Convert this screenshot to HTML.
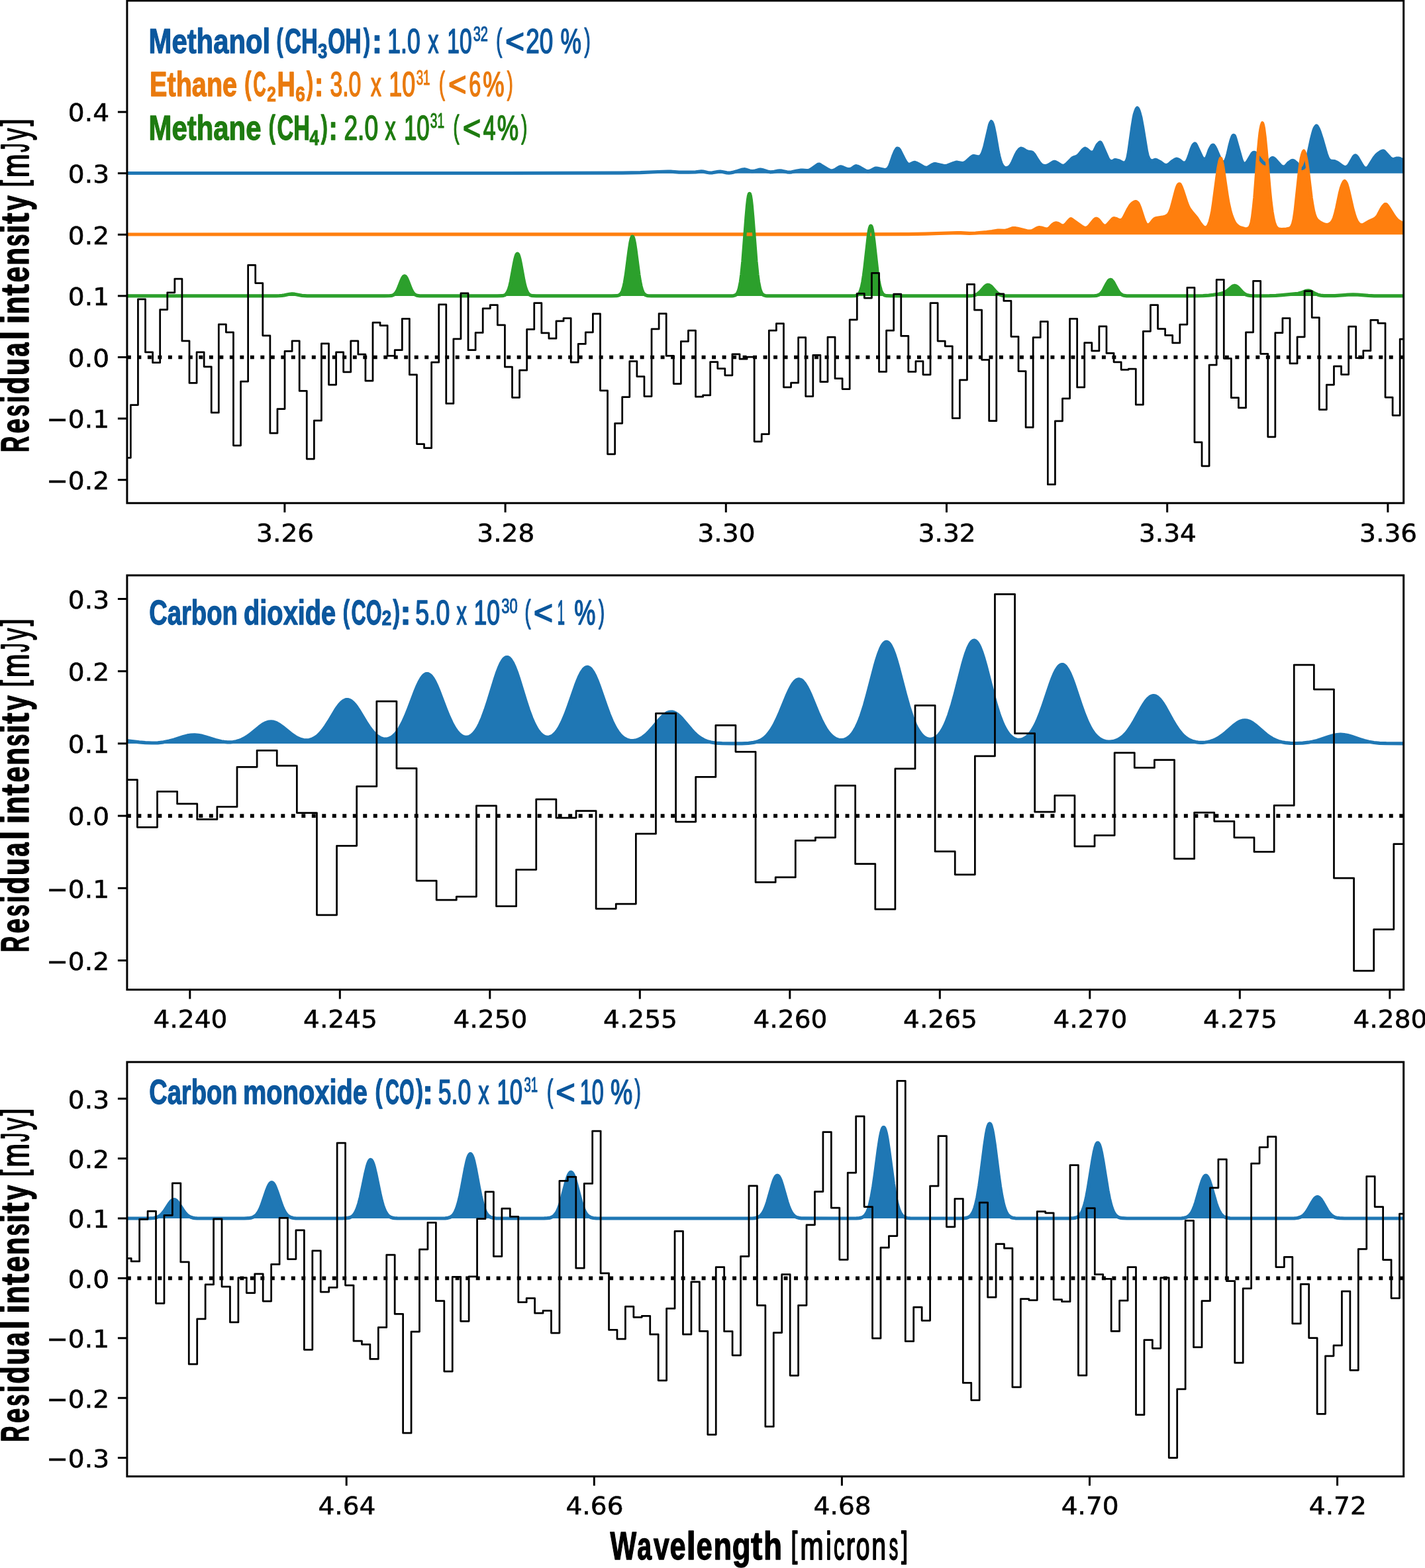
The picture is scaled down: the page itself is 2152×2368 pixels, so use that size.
<!DOCTYPE html>
<html lang="en"><head><meta charset="utf-8"><title>Residual intensity spectra</title>
<style>
html,body{margin:0;padding:0;background:#fff;}
body{width:2152px;height:2368px;overflow:hidden;}
svg{display:block;}
</style></head><body>
<svg width="2152" height="2368" viewBox="0 0 2152 2368" role="img" aria-label="Residual intensity spectra">
<rect width="2152" height="2368" fill="#fff"/>
<defs>
<clipPath id="c1"><rect x="191.9" y="1" width="1927.8" height="758.8"/></clipPath>
<clipPath id="c2"><rect x="191.9" y="868.9" width="1927.8" height="625.7"/></clipPath>
<clipPath id="c3"><rect x="191.9" y="1603.9" width="1927.8" height="625.8"/></clipPath>
</defs>
<g clip-path="url(#c1)">
<polygon fill="#1f77b4" points="191,261.7 191.0,261.5 765.8,261.5 939.8,261.1 967.0,260.7 993.5,259.5 1008.5,259.0 1013.0,259.1 1025.5,260.1 1040.5,260.2 1050.5,259.9 1059.2,258.8 1062.0,259.1 1068.5,260.5 1071.8,261.0 1076.0,260.8 1084.5,259.4 1087.8,259.1 1090.8,259.5 1097.5,260.9 1100.8,261.2 1103.2,261.0 1106.2,260.4 1113.2,258.5 1121.2,256.1 1123.8,255.7 1126.0,256.0 1132.2,258.0 1135.5,258.6 1139.0,258.4 1145.8,256.4 1148.5,256.1 1151.2,256.5 1159.0,259.0 1163.0,259.8 1167.0,259.7 1174.8,258.1 1177.8,257.8 1181.0,258.2 1188.5,259.8 1192.2,260.1 1195.5,259.8 1203.5,258.0 1209.5,257.2 1212.2,257.2 1218.2,257.7 1221.5,257.3 1223.0,256.7 1225.0,255.6 1234.2,249.0 1235.8,248.2 1236.8,248.0 1237.8,248.3 1239.2,249.1 1251.2,256.5 1253.5,257.5 1255.2,257.8 1257.5,257.8 1259.8,257.1 1261.8,256.0 1266.5,252.9 1268.8,251.9 1270.0,251.9 1271.5,252.2 1279.0,255.3 1280.8,255.6 1282.5,255.7 1284.0,255.4 1285.5,254.9 1287.2,253.9 1291.2,251.2 1292.2,250.8 1293.0,250.7 1295.0,251.2 1298.8,252.9 1307.5,257.9 1309.5,258.6 1311.5,258.7 1313.2,258.4 1314.8,257.8 1320.5,254.7 1322.5,254.0 1323.8,254.0 1325.5,254.3 1335.8,256.5 1338.0,256.4 1340.0,255.4 1341.2,254.3 1342.0,253.3 1343.8,250.0 1345.2,246.2 1349.2,234.4 1351.8,228.3 1353.8,225.0 1354.5,224.3 1355.2,224.1 1356.2,224.3 1357.0,224.7 1358.8,226.8 1366.5,242.1 1368.5,245.4 1370.2,247.2 1371.2,247.8 1372.2,248.2 1373.2,248.3 1374.5,248.1 1379.2,245.8 1380.8,245.4 1381.8,245.4 1383.8,246.1 1387.2,247.8 1395.2,252.5 1397.2,253.2 1399.0,253.4 1400.2,253.2 1401.5,252.8 1406.8,249.4 1409.5,248.1 1411.2,247.5 1413.5,247.7 1424.8,250.3 1427.5,250.6 1429.2,250.4 1430.8,250.0 1439.8,246.5 1443.8,245.2 1446.0,245.2 1453.2,246.5 1454.8,246.4 1456.2,246.0 1458.8,244.4 1466.8,237.3 1468.8,235.9 1469.8,235.6 1470.8,235.6 1476.5,236.8 1478.2,236.8 1479.5,236.5 1480.5,235.9 1481.5,235.0 1482.2,234.0 1483.2,232.2 1484.5,229.1 1486.8,221.9 1494.5,188.8 1495.8,185.4 1497.0,183.6 1497.8,184.4 1498.8,186.4 1499.8,189.4 1500.8,193.4 1502.8,203.2 1507.2,228.6 1508.8,235.6 1510.5,242.3 1512.0,246.7 1513.8,250.2 1515.5,252.2 1516.5,252.9 1517.8,253.5 1519.8,253.8 1522.0,253.3 1523.8,252.3 1525.8,250.4 1527.5,247.8 1529.2,244.6 1534.2,233.4 1536.2,229.6 1538.8,226.3 1540.5,224.8 1541.8,224.2 1543.0,224.3 1544.8,225.0 1549.2,227.8 1550.8,228.5 1552.5,229.0 1557.8,229.8 1559.5,230.6 1561.8,233.2 1566.8,241.3 1570.0,245.9 1572.2,248.3 1573.5,249.3 1574.8,250.0 1576.2,250.4 1578.0,250.6 1579.8,250.5 1581.5,250.1 1584.0,249.0 1590.2,245.0 1592.2,244.3 1593.8,244.6 1596.2,245.8 1602.5,249.7 1604.2,250.3 1605.8,250.4 1607.8,249.8 1609.8,248.5 1618.0,240.3 1620.0,238.5 1621.5,237.7 1625.5,236.5 1628.0,235.0 1630.0,232.9 1634.8,226.9 1636.5,225.3 1638.0,224.3 1639.0,224.2 1640.5,225.0 1642.5,226.4 1645.8,229.2 1647.0,229.9 1648.0,230.2 1649.0,230.2 1650.2,229.9 1651.0,229.5 1652.0,228.6 1653.0,227.1 1655.8,221.3 1657.2,218.8 1659.8,215.9 1660.8,215.2 1661.5,214.9 1662.0,215.1 1662.5,215.7 1664.0,218.5 1673.0,239.1 1674.5,241.5 1675.5,242.6 1677.2,243.6 1679.0,243.8 1680.8,243.2 1683.2,241.7 1684.5,241.6 1690.5,243.1 1695.2,245.6 1696.2,245.9 1697.5,246.0 1698.8,245.7 1699.5,245.2 1701.0,243.6 1702.0,241.4 1703.0,238.0 1704.0,233.1 1705.2,225.4 1710.0,191.2 1712.0,178.9 1713.2,173.1 1714.8,167.9 1716.2,164.5 1717.5,163.0 1718.8,164.5 1720.0,167.3 1721.2,171.1 1722.8,177.1 1725.5,191.5 1731.5,228.1 1733.0,234.6 1734.8,239.3 1735.8,240.8 1736.5,241.6 1737.5,242.3 1738.8,242.8 1739.8,242.9 1741.0,242.7 1744.8,241.3 1745.5,241.4 1746.8,241.8 1751.5,244.2 1757.2,248.4 1758.5,249.0 1760.0,249.5 1762.2,249.5 1764.2,248.7 1766.0,247.5 1769.2,244.5 1771.0,243.1 1774.5,240.9 1776.5,240.2 1778.0,240.3 1780.5,241.4 1781.8,242.3 1784.8,244.8 1786.5,245.8 1787.8,246.1 1788.8,246.1 1789.8,245.8 1790.8,245.3 1791.8,244.3 1792.5,243.3 1794.0,240.2 1795.8,235.5 1799.2,225.0 1800.8,221.2 1801.8,219.3 1802.8,218.0 1803.8,217.2 1804.5,216.9 1805.0,217.1 1805.5,217.6 1806.8,219.8 1815.0,237.3 1816.5,239.3 1817.5,239.9 1818.5,240.2 1819.8,240.1 1820.8,239.6 1821.5,238.9 1822.2,237.8 1823.2,235.5 1826.2,227.0 1828.0,223.3 1829.5,220.8 1830.2,219.9 1831.0,219.3 1832.0,219.2 1832.8,219.5 1834.2,221.3 1836.2,224.9 1842.2,239.1 1843.8,242.1 1845.0,243.7 1846.0,244.3 1847.5,244.7 1848.8,244.4 1849.8,243.8 1850.8,242.6 1852.2,239.2 1853.8,234.0 1857.2,219.1 1859.2,211.6 1861.0,206.6 1862.0,204.8 1862.8,204.4 1863.5,204.5 1864.0,204.9 1864.8,206.2 1865.5,208.3 1875.0,241.9 1876.5,245.2 1877.2,246.1 1878.2,246.8 1879.2,247.1 1880.2,247.1 1881.5,246.6 1882.5,245.8 1884.0,243.8 1891.0,232.1 1892.5,230.6 1893.2,230.3 1894.2,230.3 1895.5,230.7 1897.0,232.2 1902.8,240.0 1906.2,244.2 1908.5,246.3 1910.2,247.2 1912.2,247.4 1913.2,247.2 1914.2,246.6 1915.8,245.2 1918.5,240.9 1919.5,239.6 1921.0,238.5 1922.0,238.4 1923.5,239.0 1925.0,240.1 1934.0,250.0 1935.5,251.2 1937.0,251.9 1938.8,252.1 1940.8,251.5 1942.2,250.2 1945.2,246.6 1946.8,245.3 1950.2,243.0 1951.5,242.5 1952.5,242.4 1953.5,242.7 1954.8,243.4 1957.8,245.9 1959.5,248.0 1962.2,252.1 1963.5,253.4 1964.2,254.0 1965.2,254.3 1967.0,254.3 1968.5,253.5 1969.5,252.3 1970.5,250.4 1971.8,247.0 1973.5,241.0 1975.5,233.2 1980.5,209.9 1982.8,200.9 1984.0,196.8 1985.2,193.7 1986.8,191.1 1988.0,190.0 1989.0,190.7 1990.2,192.6 1991.5,195.2 1993.0,199.0 1996.5,209.8 2003.2,233.2 2004.8,237.3 2006.2,240.3 2007.5,241.8 2009.2,242.9 2011.0,243.4 2015.0,243.5 2018.2,244.8 2021.2,246.6 2027.0,250.9 2029.2,252.1 2031.0,252.6 2032.5,252.6 2034.0,252.0 2035.5,250.9 2036.8,249.5 2038.2,247.3 2044.2,236.9 2045.8,235.2 2046.8,234.8 2047.5,235.0 2048.2,235.5 2050.2,237.7 2057.2,249.7 2059.2,252.5 2060.2,253.4 2061.5,254.0 2063.0,254.2 2064.2,253.9 2065.8,252.9 2067.2,251.2 2075.0,238.7 2078.2,234.5 2080.8,232.2 2083.8,230.1 2086.5,228.5 2088.5,227.9 2089.5,228.0 2090.8,228.9 2099.0,238.1 2100.5,239.4 2101.8,240.1 2102.8,240.4 2104.2,240.5 2105.5,240.2 2108.8,239.1 2110.5,239.0 2112.0,239.0 2114.8,239.8 2120.2,242.5 2122.2,243.1 2124.2,243.4 2124.25,261.7"/>
<polygon fill="#ff7f0e" points="191,354.3 191.0,354.0 1166.2,353.9 1372.0,353.7 1397.5,353.2 1445.8,351.5 1450.8,351.6 1463.8,352.3 1473.2,352.0 1490.0,350.5 1497.8,349.5 1507.0,348.1 1509.5,348.1 1515.5,348.4 1518.2,348.3 1521.0,347.6 1527.8,345.1 1529.8,344.6 1531.2,344.5 1533.8,344.7 1537.0,345.3 1551.0,348.7 1553.5,349.1 1555.5,349.2 1557.5,348.9 1559.2,348.4 1565.2,344.9 1567.2,344.1 1568.8,343.7 1570.5,343.7 1572.8,344.1 1579.2,345.9 1580.8,346.1 1582.2,345.8 1583.5,345.3 1585.0,344.2 1588.5,340.2 1589.8,339.1 1592.2,337.5 1594.0,336.9 1595.8,336.9 1598.0,337.6 1599.2,338.2 1602.0,340.0 1603.5,340.7 1605.0,340.9 1606.5,340.7 1607.8,340.1 1609.0,339.1 1613.8,333.5 1616.2,331.1 1617.2,330.6 1619.0,331.6 1634.8,342.8 1636.5,343.8 1638.0,344.3 1639.2,344.4 1640.8,344.2 1642.0,343.6 1643.2,342.8 1645.5,340.5 1652.5,332.0 1654.0,330.7 1655.5,330.2 1657.0,330.5 1658.8,331.8 1660.2,333.5 1664.0,338.3 1665.8,340.0 1667.8,341.0 1669.8,340.9 1671.0,340.4 1672.5,339.2 1679.2,331.6 1680.5,330.4 1681.5,329.8 1682.8,329.7 1684.8,330.2 1686.5,330.8 1689.5,332.3 1691.0,332.7 1693.0,332.6 1694.0,332.1 1695.0,331.4 1696.2,330.0 1697.5,328.0 1703.8,315.5 1706.8,310.5 1708.8,308.2 1710.8,306.4 1712.8,305.2 1714.8,304.6 1716.2,304.9 1717.5,305.8 1718.8,307.3 1720.0,309.6 1722.0,314.8 1727.5,331.7 1729.8,337.1 1731.0,338.7 1732.0,339.4 1733.2,339.8 1734.8,339.7 1735.8,339.2 1736.8,338.5 1741.2,332.9 1743.2,331.0 1744.5,330.1 1747.5,329.3 1757.0,327.8 1759.2,327.3 1762.2,325.8 1763.5,324.8 1764.8,323.5 1765.8,322.0 1766.8,320.0 1768.8,314.6 1771.2,305.9 1775.8,288.5 1777.2,283.6 1778.2,281.1 1779.2,279.3 1780.2,278.2 1781.0,277.9 1781.8,278.2 1782.5,279.1 1784.2,282.6 1786.2,288.1 1792.2,306.6 1794.2,311.5 1796.0,314.9 1799.8,320.2 1807.2,328.9 1812.2,336.9 1814.8,340.2 1816.5,342.1 1817.8,343.1 1819.0,343.6 1820.5,343.8 1821.8,343.5 1823.2,342.5 1824.2,341.4 1825.2,339.7 1827.2,334.7 1829.2,327.0 1830.8,319.2 1832.5,308.2 1837.8,268.1 1839.8,254.2 1841.8,244.0 1842.8,240.7 1843.5,239.1 1844.0,240.0 1845.0,243.4 1846.8,252.1 1853.0,294.4 1855.0,306.4 1857.5,317.4 1859.2,323.6 1860.8,328.0 1862.8,332.9 1864.5,336.2 1866.2,338.7 1868.5,340.9 1871.2,342.8 1874.2,344.1 1879.5,345.6 1881.2,345.8 1882.8,345.8 1884.5,345.4 1885.8,344.7 1887.0,343.5 1888.2,341.5 1889.2,339.1 1890.0,336.4 1891.5,328.3 1893.2,314.4 1894.8,298.9 1899.5,237.1 1901.8,212.0 1903.0,201.2 1904.0,194.7 1905.2,189.1 1906.5,185.8 1907.5,189.1 1908.5,194.1 1910.2,207.4 1912.2,228.0 1917.5,289.5 1919.2,306.2 1921.0,319.9 1922.8,330.2 1924.5,337.1 1925.8,340.3 1926.8,342.3 1927.8,343.6 1929.2,345.0 1930.5,345.7 1931.8,346.1 1935.2,346.5 1942.5,346.1 1946.5,345.4 1948.5,344.5 1950.0,343.1 1951.2,341.1 1952.5,338.0 1954.2,330.8 1956.0,319.0 1961.8,264.7 1964.0,246.7 1965.2,239.4 1966.5,234.0 1967.8,230.2 1968.5,228.7 1969.0,228.1 1970.0,230.0 1971.2,234.0 1972.2,238.5 1973.5,245.4 1975.5,259.5 1980.2,298.8 1982.0,310.3 1983.5,318.2 1985.2,324.8 1987.0,329.2 1989.0,332.2 1992.0,334.8 1995.0,336.7 1999.0,338.5 2001.8,339.4 2004.0,339.5 2006.5,339.1 2008.8,337.9 2010.8,336.1 2012.5,333.8 2014.5,329.6 2016.5,323.1 2018.8,313.5 2023.2,292.5 2025.2,284.6 2026.5,280.7 2027.8,277.6 2029.2,274.8 2030.5,273.4 2031.5,274.2 2032.8,276.1 2033.8,278.4 2035.0,282.2 2036.8,289.2 2043.0,316.3 2045.8,326.0 2047.5,330.6 2049.2,334.2 2051.0,336.8 2053.0,338.8 2054.2,339.5 2055.8,339.9 2057.2,339.9 2058.8,339.4 2061.0,338.3 2067.0,334.6 2074.8,331.1 2077.0,329.7 2079.0,327.8 2080.8,325.5 2085.8,316.0 2088.5,311.7 2090.8,309.2 2091.8,308.6 2092.5,308.5 2093.8,309.0 2095.5,310.9 2098.2,315.0 2105.0,325.8 2107.5,329.2 2110.2,332.2 2113.0,334.4 2116.5,336.2 2120.5,337.6 2124.2,338.3 2124.25,354.3"/>
<polygon fill="#2ca02c" points="179.9,446.9 179.9,446.9 416.9,446.9 421.9,446.7 425.9,446.4 429.4,445.9 436.9,444.3 440.9,443.9 444.9,444.2 455.9,446.4 463.9,446.9 580.4,446.9 588.9,446.7 591.9,446.3 593.9,445.6 595.9,444.3 597.9,442.1 599.4,439.7 600.9,436.7 605.9,424.0 607.4,420.6 608.4,418.9 609.4,417.6 610.4,417.0 610.9,416.9 611.4,417.0 612.4,417.6 613.4,418.9 614.4,420.6 615.9,424.0 620.4,435.6 621.9,438.8 623.4,441.4 624.9,443.3 626.4,444.7 628.4,445.8 630.4,446.4 633.9,446.8 639.9,446.9 750.9,446.9 758.4,446.7 760.4,446.4 761.9,445.9 763.4,445.0 764.4,444.1 766.4,441.3 768.4,436.7 769.9,431.7 771.4,425.3 776.4,398.3 777.9,391.1 778.9,387.4 779.9,384.7 780.9,383.4 781.4,383.2 781.9,383.4 782.9,384.7 783.9,387.4 784.9,391.1 786.4,398.3 790.9,422.9 792.4,429.7 793.9,435.1 795.4,439.2 796.9,442.2 798.9,444.6 800.9,445.9 802.4,446.4 804.4,446.7 809.9,446.9 923.9,446.9 931.4,446.7 933.4,446.3 935.4,445.6 936.9,444.4 937.9,443.2 938.9,441.6 939.9,439.5 941.9,433.3 943.4,426.5 945.4,414.5 949.9,379.9 951.9,366.6 953.4,360.0 954.4,357.7 954.9,357.2 955.4,357.3 955.9,357.8 956.4,358.8 957.4,362.2 958.4,367.2 959.9,377.0 964.9,415.1 966.4,424.3 967.9,431.6 969.4,437.1 970.9,440.9 971.9,442.7 972.9,444.0 974.9,445.6 976.4,446.2 978.4,446.6 983.9,446.9 1100.4,446.9 1105.4,446.8 1107.9,446.6 1109.9,446.1 1111.9,444.9 1113.4,443.1 1114.4,441.3 1115.4,438.8 1116.4,435.4 1118.4,425.4 1119.9,414.3 1121.9,394.5 1126.9,329.0 1128.4,311.6 1129.4,302.5 1130.4,296.1 1131.4,292.8 1131.9,292.4 1132.4,292.8 1133.4,296.1 1134.4,302.5 1135.4,311.6 1136.9,329.0 1141.9,394.5 1143.9,414.3 1145.4,425.4 1147.4,435.4 1148.4,438.8 1149.4,441.3 1150.4,443.1 1151.9,444.9 1153.9,446.1 1155.9,446.6 1158.4,446.8 1163.4,446.9 1286.4,446.9 1291.9,446.6 1293.9,446.1 1295.4,445.3 1296.4,444.5 1297.4,443.3 1298.4,441.7 1299.4,439.5 1301.4,433.0 1302.9,425.7 1304.4,416.2 1305.9,404.5 1311.4,355.7 1312.4,349.1 1313.4,344.4 1314.4,341.7 1314.9,341.1 1315.4,341.2 1315.9,341.8 1316.4,343.0 1317.4,347.0 1318.4,352.9 1319.9,364.4 1324.9,409.4 1326.9,423.4 1328.4,431.3 1330.4,438.5 1331.4,440.9 1332.4,442.7 1333.4,444.1 1334.9,445.4 1336.9,446.3 1338.9,446.7 1346.4,446.9 1455.4,446.9 1463.9,446.8 1468.4,446.6 1470.9,446.2 1472.9,445.6 1474.9,444.7 1476.9,443.5 1480.4,440.4 1485.9,434.1 1487.9,432.1 1489.9,430.8 1491.9,430.2 1493.9,430.6 1496.4,432.2 1498.4,434.2 1503.9,440.5 1507.4,443.6 1509.4,444.8 1511.4,445.6 1513.4,446.2 1515.9,446.6 1520.4,446.8 1527.9,446.9 1644.9,446.9 1653.4,446.7 1656.4,446.3 1658.9,445.6 1660.9,444.4 1662.9,442.7 1664.4,440.9 1666.4,437.8 1671.4,428.3 1673.4,425.0 1674.4,423.7 1675.4,422.9 1676.9,422.3 1677.9,422.5 1678.9,423.1 1680.9,425.4 1682.4,427.9 1687.9,438.3 1689.9,441.3 1691.4,443.0 1693.4,444.6 1695.4,445.7 1697.9,446.4 1701.4,446.8 1805.4,446.9 1816.9,446.7 1825.4,446.2 1831.9,445.4 1840.4,444.0 1844.9,443.1 1847.9,442.2 1850.4,441.0 1852.9,439.4 1860.9,432.7 1862.9,431.7 1864.4,431.4 1866.4,431.8 1868.9,433.3 1870.9,435.2 1876.4,441.2 1878.4,442.9 1880.4,444.3 1882.4,445.3 1884.4,445.9 1886.9,446.4 1889.9,446.7 1899.9,446.9 1917.4,446.7 1926.9,446.3 1936.4,445.6 1956.9,443.7 1960.4,443.3 1964.9,442.1 1971.9,439.4 1973.9,439.0 1975.4,438.9 1977.4,439.1 1979.4,439.7 1986.9,443.7 1990.4,445.2 1994.4,446.1 1999.4,446.6 2007.4,446.7 2015.9,446.6 2036.4,445.1 2043.4,444.9 2050.4,445.2 2066.4,446.4 2075.4,446.8 2131.4,446.9 2131.4,446.9"/>
<polyline fill="none" stroke="#1f77b4" stroke-width="5.2" stroke-linejoin="round" points="191.0,261.5 765.8,261.5 939.8,261.1 967.0,260.7 993.5,259.5 1008.5,259.0 1013.0,259.1 1025.5,260.1 1040.5,260.2 1050.5,259.9 1059.2,258.8 1062.0,259.1 1068.5,260.5 1071.8,261.0 1076.0,260.8 1084.5,259.4 1087.8,259.1 1090.8,259.5 1097.5,260.9 1100.8,261.2 1103.2,261.0 1106.2,260.4 1113.2,258.5 1121.2,256.1 1123.8,255.7 1126.0,256.0 1132.2,258.0 1135.5,258.6 1139.0,258.4 1145.8,256.4 1148.5,256.1 1151.2,256.5 1159.0,259.0 1163.0,259.8 1167.0,259.7 1174.8,258.1 1177.8,257.8 1181.0,258.2 1188.5,259.8 1192.2,260.1 1195.5,259.8 1203.5,258.0 1209.5,257.2 1212.2,257.2 1218.2,257.7 1221.5,257.3 1223.0,256.7 1225.0,255.6 1234.2,249.0 1235.8,248.2 1236.8,248.0 1237.8,248.3 1239.2,249.1 1251.2,256.5 1253.5,257.5 1255.2,257.8 1257.5,257.8 1259.8,257.1 1261.8,256.0 1266.5,252.9 1268.8,251.9 1270.0,251.9 1271.5,252.2 1279.0,255.3 1280.8,255.6 1282.5,255.7 1284.0,255.4 1285.5,254.9 1287.2,253.9 1291.2,251.2 1292.2,250.8 1293.0,250.7 1295.0,251.2 1298.8,252.9 1307.5,257.9 1309.5,258.6 1311.5,258.7 1313.2,258.4 1314.8,257.8 1320.5,254.7 1322.5,254.0 1323.8,254.0 1325.5,254.3 1335.8,256.5 1338.0,256.4 1340.0,255.4 1341.2,254.3 1342.0,253.3 1343.8,250.0 1345.2,246.2 1349.2,234.4 1351.8,228.3 1353.8,225.0 1354.5,224.3 1355.2,224.1 1356.2,224.3 1357.0,224.7 1358.8,226.8 1366.5,242.1 1368.5,245.4 1370.2,247.2 1371.2,247.8 1372.2,248.2 1373.2,248.3 1374.5,248.1 1379.2,245.8 1380.8,245.4 1381.8,245.4 1383.8,246.1 1387.2,247.8 1395.2,252.5 1397.2,253.2 1399.0,253.4 1400.2,253.2 1401.5,252.8 1406.8,249.4 1409.5,248.1 1411.2,247.5 1413.5,247.7 1424.8,250.3 1427.5,250.6 1429.2,250.4 1430.8,250.0 1439.8,246.5 1443.8,245.2 1446.0,245.2 1453.2,246.5 1454.8,246.4 1456.2,246.0 1458.8,244.4 1466.8,237.3 1468.8,235.9 1469.8,235.6 1470.8,235.6 1476.5,236.8 1478.2,236.8 1479.5,236.5 1480.5,235.9 1481.5,235.0 1482.2,234.0 1483.2,232.2 1484.5,229.1 1486.8,221.9 1494.5,188.8 1495.8,185.4 1497.0,183.6 1497.8,184.4 1498.8,186.4 1499.8,189.4 1500.8,193.4 1502.8,203.2 1507.2,228.6 1508.8,235.6 1510.5,242.3 1512.0,246.7 1513.8,250.2 1515.5,252.2 1516.5,252.9 1517.8,253.5 1519.8,253.8 1522.0,253.3 1523.8,252.3 1525.8,250.4 1527.5,247.8 1529.2,244.6 1534.2,233.4 1536.2,229.6 1538.8,226.3 1540.5,224.8 1541.8,224.2 1543.0,224.3 1544.8,225.0 1549.2,227.8 1550.8,228.5 1552.5,229.0 1557.8,229.8 1559.5,230.6 1561.8,233.2 1566.8,241.3 1570.0,245.9 1572.2,248.3 1573.5,249.3 1574.8,250.0 1576.2,250.4 1578.0,250.6 1579.8,250.5 1581.5,250.1 1584.0,249.0 1590.2,245.0 1592.2,244.3 1593.8,244.6 1596.2,245.8 1602.5,249.7 1604.2,250.3 1605.8,250.4 1607.8,249.8 1609.8,248.5 1618.0,240.3 1620.0,238.5 1621.5,237.7 1625.5,236.5 1628.0,235.0 1630.0,232.9 1634.8,226.9 1636.5,225.3 1638.0,224.3 1639.0,224.2 1640.5,225.0 1642.5,226.4 1645.8,229.2 1647.0,229.9 1648.0,230.2 1649.0,230.2 1650.2,229.9 1651.0,229.5 1652.0,228.6 1653.0,227.1 1655.8,221.3 1657.2,218.8 1659.8,215.9 1660.8,215.2 1661.5,214.9 1662.0,215.1 1662.5,215.7 1664.0,218.5 1673.0,239.1 1674.5,241.5 1675.5,242.6 1677.2,243.6 1679.0,243.8 1680.8,243.2 1683.2,241.7 1684.5,241.6 1690.5,243.1 1695.2,245.6 1696.2,245.9 1697.5,246.0 1698.8,245.7 1699.5,245.2 1701.0,243.6 1702.0,241.4 1703.0,238.0 1704.0,233.1 1705.2,225.4 1710.0,191.2 1712.0,178.9 1713.2,173.1 1714.8,167.9 1716.2,164.5 1717.5,163.0 1718.8,164.5 1720.0,167.3 1721.2,171.1 1722.8,177.1 1725.5,191.5 1731.5,228.1 1733.0,234.6 1734.8,239.3 1735.8,240.8 1736.5,241.6 1737.5,242.3 1738.8,242.8 1739.8,242.9 1741.0,242.7 1744.8,241.3 1745.5,241.4 1746.8,241.8 1751.5,244.2 1757.2,248.4 1758.5,249.0 1760.0,249.5 1762.2,249.5 1764.2,248.7 1766.0,247.5 1769.2,244.5 1771.0,243.1 1774.5,240.9 1776.5,240.2 1778.0,240.3 1780.5,241.4 1781.8,242.3 1784.8,244.8 1786.5,245.8 1787.8,246.1 1788.8,246.1 1789.8,245.8 1790.8,245.3 1791.8,244.3 1792.5,243.3 1794.0,240.2 1795.8,235.5 1799.2,225.0 1800.8,221.2 1801.8,219.3 1802.8,218.0 1803.8,217.2 1804.5,216.9 1805.0,217.1 1805.5,217.6 1806.8,219.8 1815.0,237.3 1816.5,239.3 1817.5,239.9 1818.5,240.2 1819.8,240.1 1820.8,239.6 1821.5,238.9 1822.2,237.8 1823.2,235.5 1826.2,227.0 1828.0,223.3 1829.5,220.8 1830.2,219.9 1831.0,219.3 1832.0,219.2 1832.8,219.5 1834.2,221.3 1836.2,224.9 1842.2,239.1 1843.8,242.1 1845.0,243.7 1846.0,244.3 1847.5,244.7 1848.8,244.4 1849.8,243.8 1850.8,242.6 1852.2,239.2 1853.8,234.0 1857.2,219.1 1859.2,211.6 1861.0,206.6 1862.0,204.8 1862.8,204.4 1863.5,204.5 1864.0,204.9 1864.8,206.2 1865.5,208.3 1875.0,241.9 1876.5,245.2 1877.2,246.1 1878.2,246.8 1879.2,247.1 1880.2,247.1 1881.5,246.6 1882.5,245.8 1884.0,243.8 1891.0,232.1 1892.5,230.6 1893.2,230.3 1894.2,230.3 1895.5,230.7 1897.0,232.2 1902.8,240.0 1906.2,244.2 1908.5,246.3 1910.2,247.2 1912.2,247.4 1913.2,247.2 1914.2,246.6 1915.8,245.2 1918.5,240.9 1919.5,239.6 1921.0,238.5 1922.0,238.4 1923.5,239.0 1925.0,240.1 1934.0,250.0 1935.5,251.2 1937.0,251.9 1938.8,252.1 1940.8,251.5 1942.2,250.2 1945.2,246.6 1946.8,245.3 1950.2,243.0 1951.5,242.5 1952.5,242.4 1953.5,242.7 1954.8,243.4 1957.8,245.9 1959.5,248.0 1962.2,252.1 1963.5,253.4 1964.2,254.0 1965.2,254.3 1967.0,254.3 1968.5,253.5 1969.5,252.3 1970.5,250.4 1971.8,247.0 1973.5,241.0 1975.5,233.2 1980.5,209.9 1982.8,200.9 1984.0,196.8 1985.2,193.7 1986.8,191.1 1988.0,190.0 1989.0,190.7 1990.2,192.6 1991.5,195.2 1993.0,199.0 1996.5,209.8 2003.2,233.2 2004.8,237.3 2006.2,240.3 2007.5,241.8 2009.2,242.9 2011.0,243.4 2015.0,243.5 2018.2,244.8 2021.2,246.6 2027.0,250.9 2029.2,252.1 2031.0,252.6 2032.5,252.6 2034.0,252.0 2035.5,250.9 2036.8,249.5 2038.2,247.3 2044.2,236.9 2045.8,235.2 2046.8,234.8 2047.5,235.0 2048.2,235.5 2050.2,237.7 2057.2,249.7 2059.2,252.5 2060.2,253.4 2061.5,254.0 2063.0,254.2 2064.2,253.9 2065.8,252.9 2067.2,251.2 2075.0,238.7 2078.2,234.5 2080.8,232.2 2083.8,230.1 2086.5,228.5 2088.5,227.9 2089.5,228.0 2090.8,228.9 2099.0,238.1 2100.5,239.4 2101.8,240.1 2102.8,240.4 2104.2,240.5 2105.5,240.2 2108.8,239.1 2110.5,239.0 2112.0,239.0 2114.8,239.8 2120.2,242.5 2122.2,243.1 2124.2,243.4"/>
<polyline fill="none" stroke="#ff7f0e" stroke-width="5.2" stroke-linejoin="round" points="191.0,354.0 1166.2,353.9 1372.0,353.7 1397.5,353.2 1445.8,351.5 1450.8,351.6 1463.8,352.3 1473.2,352.0 1490.0,350.5 1497.8,349.5 1507.0,348.1 1509.5,348.1 1515.5,348.4 1518.2,348.3 1521.0,347.6 1527.8,345.1 1529.8,344.6 1531.2,344.5 1533.8,344.7 1537.0,345.3 1551.0,348.7 1553.5,349.1 1555.5,349.2 1557.5,348.9 1559.2,348.4 1565.2,344.9 1567.2,344.1 1568.8,343.7 1570.5,343.7 1572.8,344.1 1579.2,345.9 1580.8,346.1 1582.2,345.8 1583.5,345.3 1585.0,344.2 1588.5,340.2 1589.8,339.1 1592.2,337.5 1594.0,336.9 1595.8,336.9 1598.0,337.6 1599.2,338.2 1602.0,340.0 1603.5,340.7 1605.0,340.9 1606.5,340.7 1607.8,340.1 1609.0,339.1 1613.8,333.5 1616.2,331.1 1617.2,330.6 1619.0,331.6 1634.8,342.8 1636.5,343.8 1638.0,344.3 1639.2,344.4 1640.8,344.2 1642.0,343.6 1643.2,342.8 1645.5,340.5 1652.5,332.0 1654.0,330.7 1655.5,330.2 1657.0,330.5 1658.8,331.8 1660.2,333.5 1664.0,338.3 1665.8,340.0 1667.8,341.0 1669.8,340.9 1671.0,340.4 1672.5,339.2 1679.2,331.6 1680.5,330.4 1681.5,329.8 1682.8,329.7 1684.8,330.2 1686.5,330.8 1689.5,332.3 1691.0,332.7 1693.0,332.6 1694.0,332.1 1695.0,331.4 1696.2,330.0 1697.5,328.0 1703.8,315.5 1706.8,310.5 1708.8,308.2 1710.8,306.4 1712.8,305.2 1714.8,304.6 1716.2,304.9 1717.5,305.8 1718.8,307.3 1720.0,309.6 1722.0,314.8 1727.5,331.7 1729.8,337.1 1731.0,338.7 1732.0,339.4 1733.2,339.8 1734.8,339.7 1735.8,339.2 1736.8,338.5 1741.2,332.9 1743.2,331.0 1744.5,330.1 1747.5,329.3 1757.0,327.8 1759.2,327.3 1762.2,325.8 1763.5,324.8 1764.8,323.5 1765.8,322.0 1766.8,320.0 1768.8,314.6 1771.2,305.9 1775.8,288.5 1777.2,283.6 1778.2,281.1 1779.2,279.3 1780.2,278.2 1781.0,277.9 1781.8,278.2 1782.5,279.1 1784.2,282.6 1786.2,288.1 1792.2,306.6 1794.2,311.5 1796.0,314.9 1799.8,320.2 1807.2,328.9 1812.2,336.9 1814.8,340.2 1816.5,342.1 1817.8,343.1 1819.0,343.6 1820.5,343.8 1821.8,343.5 1823.2,342.5 1824.2,341.4 1825.2,339.7 1827.2,334.7 1829.2,327.0 1830.8,319.2 1832.5,308.2 1837.8,268.1 1839.8,254.2 1841.8,244.0 1842.8,240.7 1843.5,239.1 1844.0,240.0 1845.0,243.4 1846.8,252.1 1853.0,294.4 1855.0,306.4 1857.5,317.4 1859.2,323.6 1860.8,328.0 1862.8,332.9 1864.5,336.2 1866.2,338.7 1868.5,340.9 1871.2,342.8 1874.2,344.1 1879.5,345.6 1881.2,345.8 1882.8,345.8 1884.5,345.4 1885.8,344.7 1887.0,343.5 1888.2,341.5 1889.2,339.1 1890.0,336.4 1891.5,328.3 1893.2,314.4 1894.8,298.9 1899.5,237.1 1901.8,212.0 1903.0,201.2 1904.0,194.7 1905.2,189.1 1906.5,185.8 1907.5,189.1 1908.5,194.1 1910.2,207.4 1912.2,228.0 1917.5,289.5 1919.2,306.2 1921.0,319.9 1922.8,330.2 1924.5,337.1 1925.8,340.3 1926.8,342.3 1927.8,343.6 1929.2,345.0 1930.5,345.7 1931.8,346.1 1935.2,346.5 1942.5,346.1 1946.5,345.4 1948.5,344.5 1950.0,343.1 1951.2,341.1 1952.5,338.0 1954.2,330.8 1956.0,319.0 1961.8,264.7 1964.0,246.7 1965.2,239.4 1966.5,234.0 1967.8,230.2 1968.5,228.7 1969.0,228.1 1970.0,230.0 1971.2,234.0 1972.2,238.5 1973.5,245.4 1975.5,259.5 1980.2,298.8 1982.0,310.3 1983.5,318.2 1985.2,324.8 1987.0,329.2 1989.0,332.2 1992.0,334.8 1995.0,336.7 1999.0,338.5 2001.8,339.4 2004.0,339.5 2006.5,339.1 2008.8,337.9 2010.8,336.1 2012.5,333.8 2014.5,329.6 2016.5,323.1 2018.8,313.5 2023.2,292.5 2025.2,284.6 2026.5,280.7 2027.8,277.6 2029.2,274.8 2030.5,273.4 2031.5,274.2 2032.8,276.1 2033.8,278.4 2035.0,282.2 2036.8,289.2 2043.0,316.3 2045.8,326.0 2047.5,330.6 2049.2,334.2 2051.0,336.8 2053.0,338.8 2054.2,339.5 2055.8,339.9 2057.2,339.9 2058.8,339.4 2061.0,338.3 2067.0,334.6 2074.8,331.1 2077.0,329.7 2079.0,327.8 2080.8,325.5 2085.8,316.0 2088.5,311.7 2090.8,309.2 2091.8,308.6 2092.5,308.5 2093.8,309.0 2095.5,310.9 2098.2,315.0 2105.0,325.8 2107.5,329.2 2110.2,332.2 2113.0,334.4 2116.5,336.2 2120.5,337.6 2124.2,338.3"/>
<polyline fill="none" stroke="#2ca02c" stroke-width="5.2" stroke-linejoin="round" points="179.9,446.9 416.9,446.9 421.9,446.7 425.9,446.4 429.4,445.9 436.9,444.3 440.9,443.9 444.9,444.2 455.9,446.4 463.9,446.9 580.4,446.9 588.9,446.7 591.9,446.3 593.9,445.6 595.9,444.3 597.9,442.1 599.4,439.7 600.9,436.7 605.9,424.0 607.4,420.6 608.4,418.9 609.4,417.6 610.4,417.0 610.9,416.9 611.4,417.0 612.4,417.6 613.4,418.9 614.4,420.6 615.9,424.0 620.4,435.6 621.9,438.8 623.4,441.4 624.9,443.3 626.4,444.7 628.4,445.8 630.4,446.4 633.9,446.8 639.9,446.9 750.9,446.9 758.4,446.7 760.4,446.4 761.9,445.9 763.4,445.0 764.4,444.1 766.4,441.3 768.4,436.7 769.9,431.7 771.4,425.3 776.4,398.3 777.9,391.1 778.9,387.4 779.9,384.7 780.9,383.4 781.4,383.2 781.9,383.4 782.9,384.7 783.9,387.4 784.9,391.1 786.4,398.3 790.9,422.9 792.4,429.7 793.9,435.1 795.4,439.2 796.9,442.2 798.9,444.6 800.9,445.9 802.4,446.4 804.4,446.7 809.9,446.9 923.9,446.9 931.4,446.7 933.4,446.3 935.4,445.6 936.9,444.4 937.9,443.2 938.9,441.6 939.9,439.5 941.9,433.3 943.4,426.5 945.4,414.5 949.9,379.9 951.9,366.6 953.4,360.0 954.4,357.7 954.9,357.2 955.4,357.3 955.9,357.8 956.4,358.8 957.4,362.2 958.4,367.2 959.9,377.0 964.9,415.1 966.4,424.3 967.9,431.6 969.4,437.1 970.9,440.9 971.9,442.7 972.9,444.0 974.9,445.6 976.4,446.2 978.4,446.6 983.9,446.9 1100.4,446.9 1105.4,446.8 1107.9,446.6 1109.9,446.1 1111.9,444.9 1113.4,443.1 1114.4,441.3 1115.4,438.8 1116.4,435.4 1118.4,425.4 1119.9,414.3 1121.9,394.5 1126.9,329.0 1128.4,311.6 1129.4,302.5 1130.4,296.1 1131.4,292.8 1131.9,292.4 1132.4,292.8 1133.4,296.1 1134.4,302.5 1135.4,311.6 1136.9,329.0 1141.9,394.5 1143.9,414.3 1145.4,425.4 1147.4,435.4 1148.4,438.8 1149.4,441.3 1150.4,443.1 1151.9,444.9 1153.9,446.1 1155.9,446.6 1158.4,446.8 1163.4,446.9 1286.4,446.9 1291.9,446.6 1293.9,446.1 1295.4,445.3 1296.4,444.5 1297.4,443.3 1298.4,441.7 1299.4,439.5 1301.4,433.0 1302.9,425.7 1304.4,416.2 1305.9,404.5 1311.4,355.7 1312.4,349.1 1313.4,344.4 1314.4,341.7 1314.9,341.1 1315.4,341.2 1315.9,341.8 1316.4,343.0 1317.4,347.0 1318.4,352.9 1319.9,364.4 1324.9,409.4 1326.9,423.4 1328.4,431.3 1330.4,438.5 1331.4,440.9 1332.4,442.7 1333.4,444.1 1334.9,445.4 1336.9,446.3 1338.9,446.7 1346.4,446.9 1455.4,446.9 1463.9,446.8 1468.4,446.6 1470.9,446.2 1472.9,445.6 1474.9,444.7 1476.9,443.5 1480.4,440.4 1485.9,434.1 1487.9,432.1 1489.9,430.8 1491.9,430.2 1493.9,430.6 1496.4,432.2 1498.4,434.2 1503.9,440.5 1507.4,443.6 1509.4,444.8 1511.4,445.6 1513.4,446.2 1515.9,446.6 1520.4,446.8 1527.9,446.9 1644.9,446.9 1653.4,446.7 1656.4,446.3 1658.9,445.6 1660.9,444.4 1662.9,442.7 1664.4,440.9 1666.4,437.8 1671.4,428.3 1673.4,425.0 1674.4,423.7 1675.4,422.9 1676.9,422.3 1677.9,422.5 1678.9,423.1 1680.9,425.4 1682.4,427.9 1687.9,438.3 1689.9,441.3 1691.4,443.0 1693.4,444.6 1695.4,445.7 1697.9,446.4 1701.4,446.8 1805.4,446.9 1816.9,446.7 1825.4,446.2 1831.9,445.4 1840.4,444.0 1844.9,443.1 1847.9,442.2 1850.4,441.0 1852.9,439.4 1860.9,432.7 1862.9,431.7 1864.4,431.4 1866.4,431.8 1868.9,433.3 1870.9,435.2 1876.4,441.2 1878.4,442.9 1880.4,444.3 1882.4,445.3 1884.4,445.9 1886.9,446.4 1889.9,446.7 1899.9,446.9 1917.4,446.7 1926.9,446.3 1936.4,445.6 1956.9,443.7 1960.4,443.3 1964.9,442.1 1971.9,439.4 1973.9,439.0 1975.4,438.9 1977.4,439.1 1979.4,439.7 1986.9,443.7 1990.4,445.2 1994.4,446.1 1999.4,446.6 2007.4,446.7 2015.9,446.6 2036.4,445.1 2043.4,444.9 2050.4,445.2 2066.4,446.4 2075.4,446.8 2131.4,446.9"/>
<path d="M191.9 691.31H197.35V611.62H208.43V451.79H219.51V531.92H230.59V547.64H241.67V467.51H252.75V441.75H263.83V421H274.91V514.89H285.99V578.43H297.07V531.92H308.15V553.76H319.23V623.19H330.31V489.78H341.39V501.79H352.47V672.75H363.55V576.03H374.63V400.48H385.71V427.55H396.79V506.81H407.87V654.19H418.95V617.51H430.03V530.39H441.11V514.89H452.19V590.44H463.27V693.06H474.35V635.2H485.43V518.82H496.51V581.05H507.59V531.92H518.67V561.83H529.75V514.89H540.83V535.2H551.91V575.15H562.99V487.16H574.07V491.53H585.15V537.38H596.23V528.65H607.31V481.27H618.39V565.98H629.47V670.57H640.55V676.68H651.63V547.21H662.71V459.87H673.79V609.43H684.87V511.83H695.95V442.84H707.03V528.65H718.11V502.45H729.19V465.76H740.27V460.52H751.35V490.87H762.43V554.19H773.51V600.26H784.59V559.21H795.67V497.42H806.75V457.69H817.83V502.88H828.91V511.18H839.99V484.98H851.07V480.61H862.15V547.21H873.23V519.48H884.31V501.79H895.39V473.84H906.47V589.78H917.55V685.85H928.63V639.34H939.71V599.61H950.79V545.68H961.87V568.6H972.95V598.52H984.03V496.99H995.11V473.62H1006.19V537.38H1017.27V579.52H1028.35V515.55H1039.43V499.17H1050.51V599.17H1061.59V596.99H1072.67V546.55H1083.75V556.59H1094.83V566.86H1105.91V534.76H1116.99V542.18H1128.07V539.13H1139.15V666.86H1150.23V655.72H1161.31V499.17H1172.39V488.69H1183.47V584.76H1194.55V578.21H1205.63V509.65H1216.71V598.52H1227.79V536.29H1238.87V576.68H1249.95V509.21H1261.03V571.66H1272.11V587.6H1283.19V482.79H1294.27V443.49H1305.35V450.04H1316.43V412.49H1327.51V561.4H1338.59V499.17H1349.67V444.15H1360.75V507.47H1371.83V561.4H1382.91V545.68H1393.99V565.76H1405.07V457.69H1416.15V515.11H1427.23V522.75H1438.31V631.7H1449.39V573.84H1460.47V429.3H1471.55V468.17H1482.63V543.28H1493.71V635.63H1504.79V443.93H1515.87V454.41H1526.95V508.34H1538.03V560.52H1549.11V645.46H1560.19V509.65H1571.27V485.63H1582.35V731.7H1593.43V635.85H1604.51V601.79H1615.59V481.27H1626.67V584.98H1637.75V517.73H1648.83V529.96H1659.91V492.84H1670.99V533.45H1682.07V546.77H1693.15V558.34H1704.23V557.03H1715.31V611.18H1726.39V500.26H1737.47V460.52H1748.55V496.55H1759.63V506.38H1770.71V517.95H1781.79V490H1792.87V434.32H1803.95V667.95H1815.03V703.76H1826.11V551.14H1837.19V422.31H1848.27V541.31H1859.35V600.7H1870.43V615.98H1881.51V501.79H1892.59V424.28H1903.67V534.32H1914.75V659.87H1925.83V502.66H1936.91V480.61H1947.99V548.95H1959.07V508.78H1970.15V439.56H1981.23V479.52H1992.31V618.6H2003.39V581.05H2014.47V553.1H2025.55V565.55H2036.63V493.06H2047.71V540.66H2058.79V529.74H2069.87V483.45H2080.95V488.03H2092.03V600.04H2103.11V627.33H2114.19V512.05H2119.7" fill="none" stroke="#000" stroke-width="2.75" stroke-linejoin="round"/>
<line x1="191.9" y1="539.5" x2="2119.7" y2="539.5" stroke="#000" stroke-width="5.6" stroke-dasharray="5.95 9.545"/>
</g>
<g clip-path="url(#c2)">
<polygon fill="#1f77b4" points="179.9,1122.9 179.9,1117.9 190.4,1118.5 210.4,1120.9 219.4,1121.7 229.4,1122.0 238.4,1121.8 246.9,1120.8 255.4,1119.1 262.4,1117.2 276.9,1112.5 282.9,1110.9 288.4,1110.1 293.9,1109.8 299.4,1110.3 305.4,1111.4 310.9,1113.0 325.4,1117.6 334.4,1119.8 338.9,1120.4 343.4,1120.8 347.9,1120.8 351.9,1120.5 356.4,1119.7 360.4,1118.6 364.4,1117.1 368.4,1115.2 372.4,1112.8 376.9,1109.7 391.4,1097.9 396.9,1093.9 400.4,1092.0 403.4,1090.8 406.4,1090.0 409.4,1089.8 412.4,1090.1 415.4,1090.9 418.4,1092.2 421.4,1093.9 426.9,1097.8 441.4,1109.5 445.9,1112.5 449.9,1114.7 454.4,1116.6 458.4,1117.6 462.9,1117.9 466.9,1117.5 471.4,1116.2 475.4,1114.2 479.4,1111.3 483.4,1107.5 487.4,1102.8 491.9,1096.5 496.4,1089.5 506.4,1072.8 509.4,1068.3 512.4,1064.3 515.4,1061.0 518.4,1058.5 521.4,1057.0 522.9,1056.6 524.4,1056.5 525.9,1056.6 527.4,1057.1 530.4,1058.6 533.4,1061.2 536.4,1064.5 538.9,1067.9 541.9,1072.4 552.9,1090.6 557.4,1097.5 561.9,1103.6 566.4,1108.6 568.9,1110.8 571.4,1112.6 573.9,1114.1 575.9,1115.0 578.4,1115.8 580.9,1116.2 583.4,1116.2 585.4,1115.9 587.9,1115.1 589.9,1114.2 592.4,1112.6 594.4,1111.0 596.9,1108.6 598.9,1106.3 601.4,1102.9 603.4,1099.8 607.9,1091.5 612.4,1081.6 616.9,1070.4 627.4,1042.7 630.4,1035.6 632.9,1030.3 635.9,1024.9 638.9,1020.9 640.4,1019.4 641.9,1018.4 643.4,1017.7 644.9,1017.5 646.4,1017.7 647.9,1018.3 649.4,1019.3 650.9,1020.7 653.9,1024.6 656.9,1029.9 659.4,1035.1 662.4,1042.2 673.4,1071.1 677.9,1082.2 682.4,1091.9 686.9,1100.0 689.4,1103.6 691.4,1106.1 693.9,1108.7 696.4,1110.8 698.9,1112.2 701.4,1113.1 703.9,1113.4 706.4,1113.2 708.9,1112.4 710.9,1111.3 713.4,1109.4 715.4,1107.5 717.9,1104.4 719.9,1101.5 722.4,1097.3 724.4,1093.4 728.4,1084.2 732.9,1072.0 737.4,1058.2 747.9,1024.0 750.9,1015.1 753.4,1008.6 756.4,1001.9 759.4,996.8 760.9,995.0 762.4,993.7 763.9,992.8 765.4,992.5 766.9,992.7 768.4,993.4 769.9,994.6 771.4,996.3 774.4,1001.1 777.4,1007.6 780.4,1015.4 783.4,1024.3 793.9,1058.5 798.4,1072.3 802.9,1084.5 806.9,1093.6 810.9,1100.9 812.9,1103.9 815.4,1107.0 817.4,1109.1 819.9,1111.1 821.9,1112.2 824.4,1113.1 826.9,1113.4 829.4,1113.1 831.9,1112.3 834.4,1110.9 836.9,1108.8 839.4,1106.2 841.9,1103.0 844.4,1099.1 848.9,1090.5 853.9,1078.9 858.4,1066.7 869.4,1035.0 872.4,1027.2 874.9,1021.4 877.9,1015.5 880.9,1011.1 882.4,1009.5 883.9,1008.4 885.4,1007.7 886.9,1007.4 888.4,1007.6 889.9,1008.3 891.4,1009.4 892.9,1010.9 895.9,1015.2 898.9,1021.0 901.9,1028.0 904.9,1035.9 915.4,1066.2 919.9,1078.5 924.4,1089.3 928.9,1098.3 930.9,1101.7 933.4,1105.5 935.9,1108.7 938.4,1111.4 940.9,1113.6 943.4,1115.3 945.9,1116.6 948.9,1117.8 951.4,1118.3 953.9,1118.6 956.4,1118.6 959.4,1118.2 961.9,1117.5 964.9,1116.4 967.4,1115.2 970.4,1113.4 975.4,1109.5 980.4,1104.6 984.9,1099.6 995.9,1086.5 1001.4,1080.8 1004.4,1078.4 1007.4,1076.5 1010.4,1075.4 1013.4,1075.0 1015.9,1075.2 1018.4,1076.0 1020.9,1077.3 1023.9,1079.4 1026.9,1082.0 1029.9,1085.1 1044.4,1102.3 1047.9,1106.0 1051.4,1109.4 1055.4,1112.7 1059.4,1115.4 1063.4,1117.6 1067.9,1119.4 1073.9,1121.0 1081.4,1122.1 1090.4,1122.6 1103.9,1122.9 1120.4,1122.8 1130.4,1122.3 1137.9,1121.4 1141.4,1120.6 1144.4,1119.7 1147.4,1118.5 1149.9,1117.2 1152.4,1115.6 1154.9,1113.7 1157.4,1111.4 1159.9,1108.6 1164.4,1102.6 1168.9,1095.1 1173.4,1086.0 1177.9,1075.8 1188.9,1049.1 1191.9,1042.5 1194.4,1037.7 1197.4,1032.7 1200.4,1029.0 1201.9,1027.7 1203.4,1026.7 1204.9,1026.1 1206.4,1025.9 1207.9,1026.1 1209.4,1026.6 1210.9,1027.5 1212.4,1028.8 1215.4,1032.5 1218.4,1037.3 1220.9,1042.1 1223.9,1048.6 1235.4,1076.5 1239.9,1086.6 1244.9,1096.4 1247.4,1100.6 1249.9,1104.4 1252.4,1107.6 1255.4,1110.8 1257.9,1113.0 1260.9,1115.0 1263.4,1116.3 1266.4,1117.3 1269.4,1117.7 1272.4,1117.6 1275.4,1117.0 1278.4,1115.7 1281.4,1113.7 1284.4,1111.1 1287.4,1107.6 1289.9,1103.9 1292.9,1098.7 1295.4,1093.5 1297.9,1087.5 1300.4,1080.8 1305.4,1065.2 1309.9,1049.0 1320.9,1006.8 1323.9,996.3 1326.9,987.1 1329.9,979.4 1331.4,976.4 1332.9,973.8 1334.4,971.8 1335.9,970.4 1337.4,969.5 1338.9,969.3 1340.4,969.7 1341.9,970.7 1343.4,972.3 1344.9,974.4 1347.9,980.4 1350.9,988.2 1353.4,996.0 1356.4,1006.4 1367.4,1048.7 1372.4,1066.5 1377.4,1081.9 1379.9,1088.5 1382.4,1094.3 1384.9,1099.3 1387.9,1104.4 1390.9,1108.5 1393.9,1111.7 1396.9,1114.0 1399.9,1115.5 1402.9,1116.3 1406.4,1116.3 1409.4,1115.6 1412.4,1114.2 1415.4,1112.0 1417.9,1109.5 1420.9,1105.7 1423.4,1101.7 1425.9,1097.1 1428.4,1091.6 1432.9,1079.9 1437.9,1064.0 1442.4,1047.6 1453.4,1004.8 1456.4,994.2 1458.9,986.4 1461.9,978.4 1464.9,972.4 1466.4,970.2 1467.9,968.6 1469.4,967.6 1470.9,967.2 1472.4,967.4 1473.9,968.3 1475.4,969.7 1476.9,971.8 1478.4,974.4 1479.9,977.5 1482.9,985.2 1485.9,994.6 1488.9,1005.2 1499.9,1048.0 1504.4,1064.4 1509.4,1080.2 1513.9,1091.9 1516.4,1097.3 1518.9,1102.0 1521.4,1105.9 1523.9,1109.2 1526.4,1111.8 1529.4,1114.3 1532.4,1116.0 1535.4,1117.0 1538.4,1117.4 1541.9,1117.1 1545.4,1115.9 1548.4,1114.3 1551.4,1112.0 1554.4,1108.9 1557.4,1105.1 1559.9,1101.3 1562.4,1096.9 1564.9,1091.9 1567.4,1086.3 1570.4,1078.8 1575.4,1064.9 1586.4,1032.1 1589.4,1024.0 1591.9,1018.0 1594.9,1011.9 1597.9,1007.4 1599.4,1005.7 1600.9,1004.5 1602.4,1003.8 1603.9,1003.5 1605.4,1003.7 1606.9,1004.4 1608.4,1005.5 1609.9,1007.1 1612.9,1011.6 1615.9,1017.5 1618.9,1024.7 1621.9,1032.9 1632.4,1064.3 1637.4,1078.3 1642.4,1090.4 1646.9,1099.4 1649.4,1103.5 1651.9,1107.1 1654.4,1110.1 1657.4,1113.1 1659.9,1115.1 1662.9,1117.0 1665.9,1118.4 1669.4,1119.5 1672.9,1120.0 1676.4,1120.1 1680.4,1119.7 1683.9,1118.8 1687.4,1117.5 1690.4,1115.9 1693.9,1113.5 1696.9,1110.9 1699.9,1107.9 1702.4,1104.9 1707.9,1097.1 1712.9,1088.8 1724.4,1068.1 1727.4,1063.2 1730.4,1058.8 1733.4,1055.3 1736.4,1052.6 1737.9,1051.7 1739.4,1051.1 1740.9,1050.7 1742.4,1050.6 1743.9,1050.8 1745.4,1051.3 1748.4,1053.1 1751.4,1055.9 1754.4,1059.6 1756.9,1063.3 1759.9,1068.2 1770.4,1087.2 1774.9,1094.9 1779.9,1102.4 1784.4,1108.0 1786.9,1110.6 1789.4,1112.8 1791.9,1114.8 1794.4,1116.4 1796.9,1117.7 1799.9,1119.0 1802.9,1119.9 1805.9,1120.6 1809.4,1121.1 1812.9,1121.4 1816.4,1121.3 1820.4,1121.0 1823.9,1120.5 1827.4,1119.7 1830.9,1118.6 1834.4,1117.2 1839.9,1114.3 1845.9,1110.2 1850.9,1106.2 1862.4,1096.1 1867.9,1092.0 1870.9,1090.2 1873.9,1088.9 1876.9,1088.1 1879.9,1087.8 1882.9,1088.1 1885.9,1088.9 1888.9,1090.2 1891.9,1092.0 1897.4,1096.1 1908.4,1105.8 1912.9,1109.5 1917.4,1112.8 1921.9,1115.5 1926.4,1117.7 1930.9,1119.4 1935.9,1120.7 1940.9,1121.6 1948.9,1122.3 1957.9,1122.5 1967.4,1122.1 1975.9,1121.2 1982.4,1120.0 1988.9,1118.4 1994.9,1116.5 2006.9,1112.4 2012.9,1110.7 2018.9,1109.5 2024.4,1109.2 2029.9,1109.6 2035.4,1110.6 2041.4,1112.3 2054.4,1116.7 2060.4,1118.6 2067.4,1120.2 2074.9,1121.5 2083.4,1122.3 2093.4,1122.7 2131.4,1122.9 2131.4,1122.9"/>
<polyline fill="none" stroke="#1f77b4" stroke-width="5.2" stroke-linejoin="round" points="179.9,1117.9 190.4,1118.5 210.4,1120.9 219.4,1121.7 229.4,1122.0 238.4,1121.8 246.9,1120.8 255.4,1119.1 262.4,1117.2 276.9,1112.5 282.9,1110.9 288.4,1110.1 293.9,1109.8 299.4,1110.3 305.4,1111.4 310.9,1113.0 325.4,1117.6 334.4,1119.8 338.9,1120.4 343.4,1120.8 347.9,1120.8 351.9,1120.5 356.4,1119.7 360.4,1118.6 364.4,1117.1 368.4,1115.2 372.4,1112.8 376.9,1109.7 391.4,1097.9 396.9,1093.9 400.4,1092.0 403.4,1090.8 406.4,1090.0 409.4,1089.8 412.4,1090.1 415.4,1090.9 418.4,1092.2 421.4,1093.9 426.9,1097.8 441.4,1109.5 445.9,1112.5 449.9,1114.7 454.4,1116.6 458.4,1117.6 462.9,1117.9 466.9,1117.5 471.4,1116.2 475.4,1114.2 479.4,1111.3 483.4,1107.5 487.4,1102.8 491.9,1096.5 496.4,1089.5 506.4,1072.8 509.4,1068.3 512.4,1064.3 515.4,1061.0 518.4,1058.5 521.4,1057.0 522.9,1056.6 524.4,1056.5 525.9,1056.6 527.4,1057.1 530.4,1058.6 533.4,1061.2 536.4,1064.5 538.9,1067.9 541.9,1072.4 552.9,1090.6 557.4,1097.5 561.9,1103.6 566.4,1108.6 568.9,1110.8 571.4,1112.6 573.9,1114.1 575.9,1115.0 578.4,1115.8 580.9,1116.2 583.4,1116.2 585.4,1115.9 587.9,1115.1 589.9,1114.2 592.4,1112.6 594.4,1111.0 596.9,1108.6 598.9,1106.3 601.4,1102.9 603.4,1099.8 607.9,1091.5 612.4,1081.6 616.9,1070.4 627.4,1042.7 630.4,1035.6 632.9,1030.3 635.9,1024.9 638.9,1020.9 640.4,1019.4 641.9,1018.4 643.4,1017.7 644.9,1017.5 646.4,1017.7 647.9,1018.3 649.4,1019.3 650.9,1020.7 653.9,1024.6 656.9,1029.9 659.4,1035.1 662.4,1042.2 673.4,1071.1 677.9,1082.2 682.4,1091.9 686.9,1100.0 689.4,1103.6 691.4,1106.1 693.9,1108.7 696.4,1110.8 698.9,1112.2 701.4,1113.1 703.9,1113.4 706.4,1113.2 708.9,1112.4 710.9,1111.3 713.4,1109.4 715.4,1107.5 717.9,1104.4 719.9,1101.5 722.4,1097.3 724.4,1093.4 728.4,1084.2 732.9,1072.0 737.4,1058.2 747.9,1024.0 750.9,1015.1 753.4,1008.6 756.4,1001.9 759.4,996.8 760.9,995.0 762.4,993.7 763.9,992.8 765.4,992.5 766.9,992.7 768.4,993.4 769.9,994.6 771.4,996.3 774.4,1001.1 777.4,1007.6 780.4,1015.4 783.4,1024.3 793.9,1058.5 798.4,1072.3 802.9,1084.5 806.9,1093.6 810.9,1100.9 812.9,1103.9 815.4,1107.0 817.4,1109.1 819.9,1111.1 821.9,1112.2 824.4,1113.1 826.9,1113.4 829.4,1113.1 831.9,1112.3 834.4,1110.9 836.9,1108.8 839.4,1106.2 841.9,1103.0 844.4,1099.1 848.9,1090.5 853.9,1078.9 858.4,1066.7 869.4,1035.0 872.4,1027.2 874.9,1021.4 877.9,1015.5 880.9,1011.1 882.4,1009.5 883.9,1008.4 885.4,1007.7 886.9,1007.4 888.4,1007.6 889.9,1008.3 891.4,1009.4 892.9,1010.9 895.9,1015.2 898.9,1021.0 901.9,1028.0 904.9,1035.9 915.4,1066.2 919.9,1078.5 924.4,1089.3 928.9,1098.3 930.9,1101.7 933.4,1105.5 935.9,1108.7 938.4,1111.4 940.9,1113.6 943.4,1115.3 945.9,1116.6 948.9,1117.8 951.4,1118.3 953.9,1118.6 956.4,1118.6 959.4,1118.2 961.9,1117.5 964.9,1116.4 967.4,1115.2 970.4,1113.4 975.4,1109.5 980.4,1104.6 984.9,1099.6 995.9,1086.5 1001.4,1080.8 1004.4,1078.4 1007.4,1076.5 1010.4,1075.4 1013.4,1075.0 1015.9,1075.2 1018.4,1076.0 1020.9,1077.3 1023.9,1079.4 1026.9,1082.0 1029.9,1085.1 1044.4,1102.3 1047.9,1106.0 1051.4,1109.4 1055.4,1112.7 1059.4,1115.4 1063.4,1117.6 1067.9,1119.4 1073.9,1121.0 1081.4,1122.1 1090.4,1122.6 1103.9,1122.9 1120.4,1122.8 1130.4,1122.3 1137.9,1121.4 1141.4,1120.6 1144.4,1119.7 1147.4,1118.5 1149.9,1117.2 1152.4,1115.6 1154.9,1113.7 1157.4,1111.4 1159.9,1108.6 1164.4,1102.6 1168.9,1095.1 1173.4,1086.0 1177.9,1075.8 1188.9,1049.1 1191.9,1042.5 1194.4,1037.7 1197.4,1032.7 1200.4,1029.0 1201.9,1027.7 1203.4,1026.7 1204.9,1026.1 1206.4,1025.9 1207.9,1026.1 1209.4,1026.6 1210.9,1027.5 1212.4,1028.8 1215.4,1032.5 1218.4,1037.3 1220.9,1042.1 1223.9,1048.6 1235.4,1076.5 1239.9,1086.6 1244.9,1096.4 1247.4,1100.6 1249.9,1104.4 1252.4,1107.6 1255.4,1110.8 1257.9,1113.0 1260.9,1115.0 1263.4,1116.3 1266.4,1117.3 1269.4,1117.7 1272.4,1117.6 1275.4,1117.0 1278.4,1115.7 1281.4,1113.7 1284.4,1111.1 1287.4,1107.6 1289.9,1103.9 1292.9,1098.7 1295.4,1093.5 1297.9,1087.5 1300.4,1080.8 1305.4,1065.2 1309.9,1049.0 1320.9,1006.8 1323.9,996.3 1326.9,987.1 1329.9,979.4 1331.4,976.4 1332.9,973.8 1334.4,971.8 1335.9,970.4 1337.4,969.5 1338.9,969.3 1340.4,969.7 1341.9,970.7 1343.4,972.3 1344.9,974.4 1347.9,980.4 1350.9,988.2 1353.4,996.0 1356.4,1006.4 1367.4,1048.7 1372.4,1066.5 1377.4,1081.9 1379.9,1088.5 1382.4,1094.3 1384.9,1099.3 1387.9,1104.4 1390.9,1108.5 1393.9,1111.7 1396.9,1114.0 1399.9,1115.5 1402.9,1116.3 1406.4,1116.3 1409.4,1115.6 1412.4,1114.2 1415.4,1112.0 1417.9,1109.5 1420.9,1105.7 1423.4,1101.7 1425.9,1097.1 1428.4,1091.6 1432.9,1079.9 1437.9,1064.0 1442.4,1047.6 1453.4,1004.8 1456.4,994.2 1458.9,986.4 1461.9,978.4 1464.9,972.4 1466.4,970.2 1467.9,968.6 1469.4,967.6 1470.9,967.2 1472.4,967.4 1473.9,968.3 1475.4,969.7 1476.9,971.8 1478.4,974.4 1479.9,977.5 1482.9,985.2 1485.9,994.6 1488.9,1005.2 1499.9,1048.0 1504.4,1064.4 1509.4,1080.2 1513.9,1091.9 1516.4,1097.3 1518.9,1102.0 1521.4,1105.9 1523.9,1109.2 1526.4,1111.8 1529.4,1114.3 1532.4,1116.0 1535.4,1117.0 1538.4,1117.4 1541.9,1117.1 1545.4,1115.9 1548.4,1114.3 1551.4,1112.0 1554.4,1108.9 1557.4,1105.1 1559.9,1101.3 1562.4,1096.9 1564.9,1091.9 1567.4,1086.3 1570.4,1078.8 1575.4,1064.9 1586.4,1032.1 1589.4,1024.0 1591.9,1018.0 1594.9,1011.9 1597.9,1007.4 1599.4,1005.7 1600.9,1004.5 1602.4,1003.8 1603.9,1003.5 1605.4,1003.7 1606.9,1004.4 1608.4,1005.5 1609.9,1007.1 1612.9,1011.6 1615.9,1017.5 1618.9,1024.7 1621.9,1032.9 1632.4,1064.3 1637.4,1078.3 1642.4,1090.4 1646.9,1099.4 1649.4,1103.5 1651.9,1107.1 1654.4,1110.1 1657.4,1113.1 1659.9,1115.1 1662.9,1117.0 1665.9,1118.4 1669.4,1119.5 1672.9,1120.0 1676.4,1120.1 1680.4,1119.7 1683.9,1118.8 1687.4,1117.5 1690.4,1115.9 1693.9,1113.5 1696.9,1110.9 1699.9,1107.9 1702.4,1104.9 1707.9,1097.1 1712.9,1088.8 1724.4,1068.1 1727.4,1063.2 1730.4,1058.8 1733.4,1055.3 1736.4,1052.6 1737.9,1051.7 1739.4,1051.1 1740.9,1050.7 1742.4,1050.6 1743.9,1050.8 1745.4,1051.3 1748.4,1053.1 1751.4,1055.9 1754.4,1059.6 1756.9,1063.3 1759.9,1068.2 1770.4,1087.2 1774.9,1094.9 1779.9,1102.4 1784.4,1108.0 1786.9,1110.6 1789.4,1112.8 1791.9,1114.8 1794.4,1116.4 1796.9,1117.7 1799.9,1119.0 1802.9,1119.9 1805.9,1120.6 1809.4,1121.1 1812.9,1121.4 1816.4,1121.3 1820.4,1121.0 1823.9,1120.5 1827.4,1119.7 1830.9,1118.6 1834.4,1117.2 1839.9,1114.3 1845.9,1110.2 1850.9,1106.2 1862.4,1096.1 1867.9,1092.0 1870.9,1090.2 1873.9,1088.9 1876.9,1088.1 1879.9,1087.8 1882.9,1088.1 1885.9,1088.9 1888.9,1090.2 1891.9,1092.0 1897.4,1096.1 1908.4,1105.8 1912.9,1109.5 1917.4,1112.8 1921.9,1115.5 1926.4,1117.7 1930.9,1119.4 1935.9,1120.7 1940.9,1121.6 1948.9,1122.3 1957.9,1122.5 1967.4,1122.1 1975.9,1121.2 1982.4,1120.0 1988.9,1118.4 1994.9,1116.5 2006.9,1112.4 2012.9,1110.7 2018.9,1109.5 2024.4,1109.2 2029.9,1109.6 2035.4,1110.6 2041.4,1112.3 2054.4,1116.7 2060.4,1118.6 2067.4,1120.2 2074.9,1121.5 2083.4,1122.3 2093.4,1122.7 2131.4,1122.9"/>
<path d="M191.9 1177.62H207.4V1249.35H237.52V1195.48H267.64V1213.93H297.75V1237.44H327.87V1218.39H357.99V1158.27H388.11V1133.27H418.23V1156.49H448.34V1227.62H478.46V1381.79H508.58V1277.32H538.7V1187.74H568.82V1059.17H598.93V1160.36H629.05V1330H659.17V1359.17H689.29V1354.11H719.41V1216.9H749.52V1368.69H779.64V1313.33H809.76V1207.08H839.88V1235.06H870V1224.64H900.11V1372.26H930.23V1365.12H960.35V1259.17H990.47V1077.32H1020.59V1241.01H1050.7V1173.45H1080.82V1095.48H1110.94V1135.36H1141.06V1332.38H1171.18V1324.94H1201.29V1269.29H1231.41V1264.82H1261.53V1186.25H1291.65V1304.7H1321.77V1373.15H1351.88V1160.95H1382V1065.42H1412.12V1285.95H1442.24V1320.77H1472.36V1141.9H1502.47V897.26H1532.59V1107.68H1562.71V1226.13H1592.83V1201.43H1622.95V1278.21H1653.06V1261.55H1683.18V1136.85H1713.3V1159.46H1743.42V1147.56H1773.54V1296.96H1803.65V1227.02H1833.77V1240.3H1863.89V1264.8H1894.01V1286.4H1924.13V1216.4H1954.24V1004.1H1984.36V1041H2014.48V1326.2H2044.6V1466.2H2074.72V1403.5H2104.83V1274.5H2119.7" fill="none" stroke="#000" stroke-width="2.75" stroke-linejoin="round"/>
<line x1="191.9" y1="1232.1" x2="2119.7" y2="1232.1" stroke="#000" stroke-width="5.6" stroke-dasharray="5.95 9.545"/>
</g>
<g clip-path="url(#c3)">
<polygon fill="#1f77b4" points="179.9,1840 179.9,1840.0 226.4,1839.9 232.4,1839.5 236.9,1838.4 238.9,1837.6 240.9,1836.4 242.9,1834.9 244.4,1833.4 247.9,1829.1 254.9,1818.3 257.4,1815.0 258.9,1813.4 260.4,1812.3 261.9,1811.7 262.9,1811.6 263.9,1811.7 265.4,1812.4 266.9,1813.6 268.4,1815.2 270.9,1818.6 277.9,1829.4 279.9,1832.0 281.9,1834.1 283.9,1835.9 285.9,1837.2 288.4,1838.3 290.9,1839.1 293.9,1839.6 297.4,1839.8 310.4,1840.0 368.9,1840.0 375.4,1839.7 379.4,1839.1 382.4,1838.1 385.4,1836.3 387.9,1833.8 390.4,1830.2 392.4,1826.4 394.9,1820.5 402.4,1798.5 404.9,1792.1 406.4,1789.2 407.9,1787.0 409.4,1785.9 410.4,1785.7 411.4,1786.0 412.9,1787.3 414.4,1789.5 415.9,1792.6 418.4,1799.1 425.4,1819.8 427.4,1824.7 429.4,1828.8 431.4,1832.1 433.4,1834.6 435.4,1836.4 437.9,1838.0 440.4,1838.9 442.9,1839.5 446.4,1839.8 451.4,1840.0 516.4,1840.0 522.9,1839.7 526.9,1839.2 528.9,1838.5 530.9,1837.6 532.4,1836.5 533.9,1835.0 535.4,1833.1 536.9,1830.7 539.4,1825.1 541.9,1817.5 544.4,1807.8 551.9,1771.9 554.4,1761.5 555.9,1756.8 557.4,1753.4 558.4,1752.0 558.9,1751.6 559.9,1751.4 560.9,1752.0 562.4,1754.2 563.9,1757.9 565.4,1763.0 567.9,1773.8 574.4,1805.2 576.4,1813.5 578.4,1820.5 580.4,1826.1 582.4,1830.5 584.9,1834.3 587.4,1836.8 589.9,1838.3 592.4,1839.1 595.4,1839.6 599.9,1839.9 665.9,1840.0 672.4,1839.8 676.4,1839.3 678.4,1838.8 680.4,1838.0 682.4,1836.7 683.9,1835.3 685.4,1833.5 686.9,1831.1 688.4,1828.0 689.9,1824.2 692.4,1816.0 694.9,1805.5 697.4,1793.1 702.4,1766.1 704.9,1754.5 706.4,1749.0 707.9,1745.1 709.4,1742.9 710.4,1742.5 711.4,1742.9 712.9,1745.1 714.4,1749.0 715.9,1754.5 718.4,1766.1 723.4,1793.1 725.9,1805.5 728.4,1816.0 730.9,1824.2 732.4,1828.0 733.9,1831.1 735.4,1833.5 736.9,1835.3 738.4,1836.7 740.4,1838.0 742.4,1838.8 744.9,1839.4 748.9,1839.8 754.9,1840.0 821.9,1839.9 826.4,1839.7 829.4,1839.4 831.9,1838.7 834.4,1837.6 836.9,1835.7 839.4,1832.8 841.4,1829.5 843.4,1825.1 845.4,1819.7 847.4,1813.3 854.4,1786.7 856.9,1778.5 858.4,1774.6 859.9,1771.9 861.4,1770.4 862.4,1770.2 863.4,1770.6 864.9,1772.2 866.4,1775.1 867.9,1779.1 870.4,1787.5 877.4,1814.0 879.9,1821.7 882.4,1827.8 883.9,1830.7 885.4,1833.1 886.9,1834.9 888.4,1836.3 889.9,1837.4 891.9,1838.4 895.9,1839.5 900.4,1839.9 908.9,1840.0 1126.4,1840.0 1136.9,1839.8 1139.9,1839.6 1142.4,1839.1 1145.9,1837.8 1147.4,1836.9 1148.9,1835.7 1151.4,1832.8 1153.9,1828.5 1156.4,1822.8 1158.9,1815.5 1165.9,1790.9 1168.4,1783.1 1169.9,1779.5 1171.4,1776.9 1172.9,1775.5 1173.9,1775.2 1174.9,1775.5 1176.4,1776.9 1177.9,1779.5 1179.4,1783.1 1181.9,1790.9 1188.9,1815.5 1190.9,1821.4 1192.9,1826.4 1194.9,1830.4 1196.9,1833.4 1199.4,1836.1 1201.9,1837.8 1204.4,1838.8 1206.9,1839.4 1209.9,1839.8 1214.4,1839.9 1287.4,1840.0 1293.4,1839.9 1297.4,1839.6 1300.4,1839.1 1302.9,1838.1 1304.9,1836.8 1306.9,1834.8 1308.9,1831.8 1310.4,1828.6 1311.9,1824.6 1313.4,1819.6 1315.9,1808.7 1318.9,1791.4 1321.4,1773.8 1326.4,1735.8 1328.9,1719.4 1330.4,1711.7 1331.9,1706.2 1332.9,1703.8 1333.4,1703.1 1333.9,1702.6 1334.4,1702.5 1334.9,1702.6 1335.4,1703.1 1335.9,1703.8 1336.9,1706.2 1338.4,1711.7 1339.9,1719.4 1342.4,1735.8 1349.4,1788.1 1351.4,1800.6 1353.4,1811.2 1355.4,1819.6 1357.4,1826.1 1359.9,1831.8 1360.9,1833.4 1362.4,1835.4 1364.9,1837.5 1367.4,1838.8 1370.4,1839.5 1374.4,1839.9 1446.4,1840.0 1453.4,1839.9 1457.4,1839.6 1460.4,1839.1 1462.9,1838.1 1464.9,1836.9 1466.9,1834.8 1468.9,1831.8 1470.4,1828.6 1471.9,1824.6 1473.4,1819.5 1475.9,1808.5 1478.9,1790.7 1481.4,1772.7 1486.9,1729.3 1489.4,1712.7 1490.9,1705.1 1491.9,1701.3 1493.4,1697.8 1494.4,1696.9 1494.9,1697.0 1495.4,1697.3 1495.9,1697.9 1496.9,1700.1 1498.4,1705.6 1499.9,1713.3 1502.4,1730.0 1507.9,1773.4 1510.4,1791.4 1512.9,1806.4 1515.4,1818.0 1516.9,1823.4 1518.4,1827.7 1519.9,1831.0 1521.4,1833.6 1522.9,1835.5 1524.9,1837.3 1526.9,1838.4 1529.4,1839.2 1533.4,1839.8 1539.9,1840.0 1616.9,1839.9 1621.4,1839.6 1624.4,1839.1 1626.9,1838.2 1629.4,1836.5 1631.9,1833.7 1634.4,1829.3 1636.9,1822.7 1638.9,1815.7 1640.9,1806.8 1642.9,1796.3 1649.9,1752.8 1652.4,1739.3 1653.9,1733.1 1655.4,1728.6 1656.4,1726.8 1656.9,1726.2 1657.9,1725.8 1658.9,1726.4 1660.4,1729.1 1661.9,1733.8 1663.4,1740.3 1665.9,1754.0 1672.9,1797.4 1675.4,1810.1 1677.9,1820.1 1679.4,1824.8 1680.9,1828.7 1682.4,1831.7 1683.9,1834.0 1685.4,1835.8 1687.4,1837.4 1689.4,1838.5 1691.4,1839.1 1695.4,1839.7 1701.9,1840.0 1779.4,1840.0 1784.4,1839.8 1787.9,1839.4 1790.4,1838.9 1792.9,1837.9 1795.4,1836.2 1797.9,1833.6 1799.9,1830.6 1801.9,1826.6 1803.9,1821.7 1805.9,1815.8 1812.9,1791.2 1815.4,1783.4 1816.9,1779.7 1818.4,1777.1 1819.9,1775.5 1820.9,1775.2 1821.9,1775.4 1823.4,1776.8 1824.9,1779.3 1826.4,1782.9 1828.9,1790.5 1836.4,1816.8 1838.9,1823.8 1840.9,1828.3 1843.4,1832.6 1844.9,1834.5 1846.4,1836.0 1847.9,1837.2 1849.4,1838.0 1852.9,1839.2 1857.4,1839.8 1863.9,1840.0 1943.4,1840.0 1954.9,1839.8 1958.4,1839.5 1960.9,1839.1 1963.4,1838.3 1965.9,1837.1 1968.4,1835.4 1970.4,1833.4 1972.4,1831.0 1974.9,1827.3 1981.4,1815.8 1983.9,1811.8 1985.4,1810.0 1986.9,1808.6 1988.4,1807.8 1989.4,1807.6 1990.4,1807.7 1991.9,1808.3 1993.4,1809.6 1994.9,1811.3 1997.4,1815.1 2004.4,1827.4 2006.9,1831.1 2008.9,1833.5 2010.9,1835.4 2013.4,1837.2 2015.9,1838.4 2018.4,1839.1 2022.9,1839.7 2030.4,1840.0 2131.4,1840.0 2131.4,1840"/>
<polyline fill="none" stroke="#1f77b4" stroke-width="5.2" stroke-linejoin="round" points="179.9,1840.0 226.4,1839.9 232.4,1839.5 236.9,1838.4 238.9,1837.6 240.9,1836.4 242.9,1834.9 244.4,1833.4 247.9,1829.1 254.9,1818.3 257.4,1815.0 258.9,1813.4 260.4,1812.3 261.9,1811.7 262.9,1811.6 263.9,1811.7 265.4,1812.4 266.9,1813.6 268.4,1815.2 270.9,1818.6 277.9,1829.4 279.9,1832.0 281.9,1834.1 283.9,1835.9 285.9,1837.2 288.4,1838.3 290.9,1839.1 293.9,1839.6 297.4,1839.8 310.4,1840.0 368.9,1840.0 375.4,1839.7 379.4,1839.1 382.4,1838.1 385.4,1836.3 387.9,1833.8 390.4,1830.2 392.4,1826.4 394.9,1820.5 402.4,1798.5 404.9,1792.1 406.4,1789.2 407.9,1787.0 409.4,1785.9 410.4,1785.7 411.4,1786.0 412.9,1787.3 414.4,1789.5 415.9,1792.6 418.4,1799.1 425.4,1819.8 427.4,1824.7 429.4,1828.8 431.4,1832.1 433.4,1834.6 435.4,1836.4 437.9,1838.0 440.4,1838.9 442.9,1839.5 446.4,1839.8 451.4,1840.0 516.4,1840.0 522.9,1839.7 526.9,1839.2 528.9,1838.5 530.9,1837.6 532.4,1836.5 533.9,1835.0 535.4,1833.1 536.9,1830.7 539.4,1825.1 541.9,1817.5 544.4,1807.8 551.9,1771.9 554.4,1761.5 555.9,1756.8 557.4,1753.4 558.4,1752.0 558.9,1751.6 559.9,1751.4 560.9,1752.0 562.4,1754.2 563.9,1757.9 565.4,1763.0 567.9,1773.8 574.4,1805.2 576.4,1813.5 578.4,1820.5 580.4,1826.1 582.4,1830.5 584.9,1834.3 587.4,1836.8 589.9,1838.3 592.4,1839.1 595.4,1839.6 599.9,1839.9 665.9,1840.0 672.4,1839.8 676.4,1839.3 678.4,1838.8 680.4,1838.0 682.4,1836.7 683.9,1835.3 685.4,1833.5 686.9,1831.1 688.4,1828.0 689.9,1824.2 692.4,1816.0 694.9,1805.5 697.4,1793.1 702.4,1766.1 704.9,1754.5 706.4,1749.0 707.9,1745.1 709.4,1742.9 710.4,1742.5 711.4,1742.9 712.9,1745.1 714.4,1749.0 715.9,1754.5 718.4,1766.1 723.4,1793.1 725.9,1805.5 728.4,1816.0 730.9,1824.2 732.4,1828.0 733.9,1831.1 735.4,1833.5 736.9,1835.3 738.4,1836.7 740.4,1838.0 742.4,1838.8 744.9,1839.4 748.9,1839.8 754.9,1840.0 821.9,1839.9 826.4,1839.7 829.4,1839.4 831.9,1838.7 834.4,1837.6 836.9,1835.7 839.4,1832.8 841.4,1829.5 843.4,1825.1 845.4,1819.7 847.4,1813.3 854.4,1786.7 856.9,1778.5 858.4,1774.6 859.9,1771.9 861.4,1770.4 862.4,1770.2 863.4,1770.6 864.9,1772.2 866.4,1775.1 867.9,1779.1 870.4,1787.5 877.4,1814.0 879.9,1821.7 882.4,1827.8 883.9,1830.7 885.4,1833.1 886.9,1834.9 888.4,1836.3 889.9,1837.4 891.9,1838.4 895.9,1839.5 900.4,1839.9 908.9,1840.0 1126.4,1840.0 1136.9,1839.8 1139.9,1839.6 1142.4,1839.1 1145.9,1837.8 1147.4,1836.9 1148.9,1835.7 1151.4,1832.8 1153.9,1828.5 1156.4,1822.8 1158.9,1815.5 1165.9,1790.9 1168.4,1783.1 1169.9,1779.5 1171.4,1776.9 1172.9,1775.5 1173.9,1775.2 1174.9,1775.5 1176.4,1776.9 1177.9,1779.5 1179.4,1783.1 1181.9,1790.9 1188.9,1815.5 1190.9,1821.4 1192.9,1826.4 1194.9,1830.4 1196.9,1833.4 1199.4,1836.1 1201.9,1837.8 1204.4,1838.8 1206.9,1839.4 1209.9,1839.8 1214.4,1839.9 1287.4,1840.0 1293.4,1839.9 1297.4,1839.6 1300.4,1839.1 1302.9,1838.1 1304.9,1836.8 1306.9,1834.8 1308.9,1831.8 1310.4,1828.6 1311.9,1824.6 1313.4,1819.6 1315.9,1808.7 1318.9,1791.4 1321.4,1773.8 1326.4,1735.8 1328.9,1719.4 1330.4,1711.7 1331.9,1706.2 1332.9,1703.8 1333.4,1703.1 1333.9,1702.6 1334.4,1702.5 1334.9,1702.6 1335.4,1703.1 1335.9,1703.8 1336.9,1706.2 1338.4,1711.7 1339.9,1719.4 1342.4,1735.8 1349.4,1788.1 1351.4,1800.6 1353.4,1811.2 1355.4,1819.6 1357.4,1826.1 1359.9,1831.8 1360.9,1833.4 1362.4,1835.4 1364.9,1837.5 1367.4,1838.8 1370.4,1839.5 1374.4,1839.9 1446.4,1840.0 1453.4,1839.9 1457.4,1839.6 1460.4,1839.1 1462.9,1838.1 1464.9,1836.9 1466.9,1834.8 1468.9,1831.8 1470.4,1828.6 1471.9,1824.6 1473.4,1819.5 1475.9,1808.5 1478.9,1790.7 1481.4,1772.7 1486.9,1729.3 1489.4,1712.7 1490.9,1705.1 1491.9,1701.3 1493.4,1697.8 1494.4,1696.9 1494.9,1697.0 1495.4,1697.3 1495.9,1697.9 1496.9,1700.1 1498.4,1705.6 1499.9,1713.3 1502.4,1730.0 1507.9,1773.4 1510.4,1791.4 1512.9,1806.4 1515.4,1818.0 1516.9,1823.4 1518.4,1827.7 1519.9,1831.0 1521.4,1833.6 1522.9,1835.5 1524.9,1837.3 1526.9,1838.4 1529.4,1839.2 1533.4,1839.8 1539.9,1840.0 1616.9,1839.9 1621.4,1839.6 1624.4,1839.1 1626.9,1838.2 1629.4,1836.5 1631.9,1833.7 1634.4,1829.3 1636.9,1822.7 1638.9,1815.7 1640.9,1806.8 1642.9,1796.3 1649.9,1752.8 1652.4,1739.3 1653.9,1733.1 1655.4,1728.6 1656.4,1726.8 1656.9,1726.2 1657.9,1725.8 1658.9,1726.4 1660.4,1729.1 1661.9,1733.8 1663.4,1740.3 1665.9,1754.0 1672.9,1797.4 1675.4,1810.1 1677.9,1820.1 1679.4,1824.8 1680.9,1828.7 1682.4,1831.7 1683.9,1834.0 1685.4,1835.8 1687.4,1837.4 1689.4,1838.5 1691.4,1839.1 1695.4,1839.7 1701.9,1840.0 1779.4,1840.0 1784.4,1839.8 1787.9,1839.4 1790.4,1838.9 1792.9,1837.9 1795.4,1836.2 1797.9,1833.6 1799.9,1830.6 1801.9,1826.6 1803.9,1821.7 1805.9,1815.8 1812.9,1791.2 1815.4,1783.4 1816.9,1779.7 1818.4,1777.1 1819.9,1775.5 1820.9,1775.2 1821.9,1775.4 1823.4,1776.8 1824.9,1779.3 1826.4,1782.9 1828.9,1790.5 1836.4,1816.8 1838.9,1823.8 1840.9,1828.3 1843.4,1832.6 1844.9,1834.5 1846.4,1836.0 1847.9,1837.2 1849.4,1838.0 1852.9,1839.2 1857.4,1839.8 1863.9,1840.0 1943.4,1840.0 1954.9,1839.8 1958.4,1839.5 1960.9,1839.1 1963.4,1838.3 1965.9,1837.1 1968.4,1835.4 1970.4,1833.4 1972.4,1831.0 1974.9,1827.3 1981.4,1815.8 1983.9,1811.8 1985.4,1810.0 1986.9,1808.6 1988.4,1807.8 1989.4,1807.6 1990.4,1807.7 1991.9,1808.3 1993.4,1809.6 1994.9,1811.3 1997.4,1815.1 2004.4,1827.4 2006.9,1831.1 2008.9,1833.5 2010.9,1835.4 2013.4,1837.2 2015.9,1838.4 2018.4,1839.1 2022.9,1839.7 2030.4,1840.0 2131.4,1840.0"/>
<path d="M191.9 1900.29H198.2V1904.94H210.64V1841.32H223.07V1829.2H235.51V1968.27H247.95V1835.26H260.38V1786.78H272.82V1905.95H285.26V2060.17H297.7V1991.9H310.13V1939.99H322.57V1840.91H335.01V1943.02H347.44V1996.95H359.88V1929.58H372.32V1952.51H384.75V1923.83H397.19V1965.04H409.63V1909.49H422.07V1839.3H434.5V1901.51H446.94V1857.88H459.38V2038.36H471.81V1888.78H484.25V1951.1H496.69V1944.44H509.12V1726.19H521.56V1941H534V2025.23H546.44V2030.28H558.87V2052.49H571.31V2004.63H583.75V1895.24H596.18V1984.43H608.62V2164.19H621.06V2011.09H633.49V1886.76H645.93V1846.37H658.37V1964.63H670.81V2071.08H683.24V1928.28H695.68V1995.33H708.12V1927.87H720.55V1840.71H732.99V1799.91H745.43V1897.47H757.87V1825.16H770.3V1837.28H782.74V1966.65H795.18V1960.59H807.61V1983.22H820.05V1979.38H832.49V2013.11H844.92V1783.35H857.36V1777.29H869.8V1915.15H882.23V1787.39H894.67V1708.01H907.11V1922.82H919.55V2008.46H931.98V2022.2H944.42V1973.12H956.86V1989.27H969.29V1987.26H981.73V2015.13H994.17V2084.81H1006.61V1976.15H1019.04V1859.49H1031.48V2015.13H1043.92V1935.75H1056.35V2010.48H1068.79V2166.61H1081.23V1913.53H1093.66V2010.68H1106.1V2046.84H1118.54V1897.26H1130.97V1790.82H1143.41V1971.3H1155.85V2154.49H1168.29V2012.5H1180.72V1924.64H1193.16V2077.34H1205.6V1971.3H1218.03V1849.8H1230.47V1799.51H1242.91V1709.63H1255.35V1824.15H1267.78V1902.31H1280.22V1771.03H1292.66V1685.79H1305.09V1822.53H1317.53V2021.19H1329.97V1884.14H1342.4V1866.56H1354.84V1632.27H1367.28V2025.63H1379.71V1974.13H1392.15V1994.32H1404.59V1791.23H1417.03V1715.68H1429.46V1852.83H1441.9V1810.41H1454.34V2088.45H1466.77V2114.5H1479.21V1816.07H1491.65V1959.18H1504.09V1878.68H1516.52V1885.15H1528.96V2094.91H1541.4V1961.6H1553.83V1963.62H1566.27V1829.6H1578.71V1831.82H1591.14V1962.61H1603.58V1965.64H1616.02V1759.51H1628.45V2077.14H1640.89V1824.55H1653.33V1924.64H1665.77V1931.31H1678.2V2010.48H1690.64V1964.23H1703.08V1913.53H1715.51V2136.72H1727.95V2023.61H1740.39V2036.34H1752.83V1929.69H1765.26V2201.56H1777.7V2097.94H1790.14V1843.34H1802.57V2034.72H1815.01V1964.63H1827.45V1793.85H1839.88V1750.83H1852.32V1934.74H1864.76V2058.15H1877.19V1945.85H1889.63V1757.09H1902.07V1732.65H1914.51V1716.69H1926.94V1913.53H1939.38V1898.27H1951.82V1998.97H1964.25V1939.39H1976.69V2020.58H1989.13V2135.31H2001.57V2047.85H2014V2031.89H2026.44V1950.09H2038.88V2069.26H2051.31V1886.36H2063.75V1776.68H2076.19V1822.53H2088.62V1902.52H2101.06V1960.59H2113.5V1833.24H2119.7" fill="none" stroke="#000" stroke-width="2.75" stroke-linejoin="round"/>
<line x1="191.9" y1="1930.4" x2="2119.7" y2="1930.4" stroke="#000" stroke-width="5.6" stroke-dasharray="5.95 9.545"/>
</g>
<g font-family="'DejaVu Sans', 'Liberation Sans', sans-serif" font-size="37.5" fill="#000">
<rect x="191.9" y="1" width="1927.8" height="758.8" fill="none" stroke="#000" stroke-width="3.0"/>
<line x1="177.9" y1="169.1" x2="191.9" y2="169.1" stroke="#000" stroke-width="3.0"/>
<text transform="translate(165.0 183.4) scale(1.042 1)" text-anchor="end" stroke="#000" stroke-width="0.55">0.4</text>
<line x1="177.9" y1="261.7" x2="191.9" y2="261.7" stroke="#000" stroke-width="3.0"/>
<text transform="translate(165.0 276) scale(1.042 1)" text-anchor="end" stroke="#000" stroke-width="0.55">0.3</text>
<line x1="177.9" y1="354.3" x2="191.9" y2="354.3" stroke="#000" stroke-width="3.0"/>
<text transform="translate(165.0 368.6) scale(1.042 1)" text-anchor="end" stroke="#000" stroke-width="0.55">0.2</text>
<line x1="177.9" y1="446.9" x2="191.9" y2="446.9" stroke="#000" stroke-width="3.0"/>
<text transform="translate(165.0 461.2) scale(1.042 1)" text-anchor="end" stroke="#000" stroke-width="0.55">0.1</text>
<line x1="177.9" y1="539.5" x2="191.9" y2="539.5" stroke="#000" stroke-width="3.0"/>
<text transform="translate(165.0 553.8) scale(1.042 1)" text-anchor="end" stroke="#000" stroke-width="0.55">0.0</text>
<line x1="177.9" y1="632.1" x2="191.9" y2="632.1" stroke="#000" stroke-width="3.0"/>
<text transform="translate(165.0 646.4) scale(1.042 1)" text-anchor="end" stroke="#000" stroke-width="0.55">−0.1</text>
<line x1="177.9" y1="724.7" x2="191.9" y2="724.7" stroke="#000" stroke-width="3.0"/>
<text transform="translate(165.0 739) scale(1.042 1)" text-anchor="end" stroke="#000" stroke-width="0.55">−0.2</text>
<line x1="429.9" y1="759.8" x2="429.9" y2="773.8" stroke="#000" stroke-width="3.0"/>
<text transform="translate(430.6 817.9) scale(1.042 1)" text-anchor="middle" stroke="#000" stroke-width="0.55">3.26</text>
<line x1="763.1" y1="759.8" x2="763.1" y2="773.8" stroke="#000" stroke-width="3.0"/>
<text transform="translate(763.8 817.9) scale(1.042 1)" text-anchor="middle" stroke="#000" stroke-width="0.55">3.28</text>
<line x1="1096.3" y1="759.8" x2="1096.3" y2="773.8" stroke="#000" stroke-width="3.0"/>
<text transform="translate(1097 817.9) scale(1.042 1)" text-anchor="middle" stroke="#000" stroke-width="0.55">3.30</text>
<line x1="1429.5" y1="759.8" x2="1429.5" y2="773.8" stroke="#000" stroke-width="3.0"/>
<text transform="translate(1430.2 817.9) scale(1.042 1)" text-anchor="middle" stroke="#000" stroke-width="0.55">3.32</text>
<line x1="1762.7" y1="759.8" x2="1762.7" y2="773.8" stroke="#000" stroke-width="3.0"/>
<text transform="translate(1763.4 817.9) scale(1.042 1)" text-anchor="middle" stroke="#000" stroke-width="0.55">3.34</text>
<line x1="2095.9" y1="759.8" x2="2095.9" y2="773.8" stroke="#000" stroke-width="3.0"/>
<text transform="translate(2096.6 817.9) scale(1.042 1)" text-anchor="middle" stroke="#000" stroke-width="0.55">3.36</text>
<rect x="191.9" y="868.9" width="1927.8" height="625.7" fill="none" stroke="#000" stroke-width="3.0"/>
<line x1="177.9" y1="904.5" x2="191.9" y2="904.5" stroke="#000" stroke-width="3.0"/>
<text transform="translate(165.0 918.8) scale(1.042 1)" text-anchor="end" stroke="#000" stroke-width="0.55">0.3</text>
<line x1="177.9" y1="1013.7" x2="191.9" y2="1013.7" stroke="#000" stroke-width="3.0"/>
<text transform="translate(165.0 1028) scale(1.042 1)" text-anchor="end" stroke="#000" stroke-width="0.55">0.2</text>
<line x1="177.9" y1="1122.9" x2="191.9" y2="1122.9" stroke="#000" stroke-width="3.0"/>
<text transform="translate(165.0 1137.2) scale(1.042 1)" text-anchor="end" stroke="#000" stroke-width="0.55">0.1</text>
<line x1="177.9" y1="1232.1" x2="191.9" y2="1232.1" stroke="#000" stroke-width="3.0"/>
<text transform="translate(165.0 1246.4) scale(1.042 1)" text-anchor="end" stroke="#000" stroke-width="0.55">0.0</text>
<line x1="177.9" y1="1341.3" x2="191.9" y2="1341.3" stroke="#000" stroke-width="3.0"/>
<text transform="translate(165.0 1355.6) scale(1.042 1)" text-anchor="end" stroke="#000" stroke-width="0.55">−0.1</text>
<line x1="177.9" y1="1450.5" x2="191.9" y2="1450.5" stroke="#000" stroke-width="3.0"/>
<text transform="translate(165.0 1464.8) scale(1.042 1)" text-anchor="end" stroke="#000" stroke-width="0.55">−0.2</text>
<line x1="286.8" y1="1494.6" x2="286.8" y2="1508.6" stroke="#000" stroke-width="3.0"/>
<text transform="translate(287.5 1551.7) scale(1.042 1)" text-anchor="middle" stroke="#000" stroke-width="0.55">4.240</text>
<line x1="513.3" y1="1494.6" x2="513.3" y2="1508.6" stroke="#000" stroke-width="3.0"/>
<text transform="translate(514 1551.7) scale(1.042 1)" text-anchor="middle" stroke="#000" stroke-width="0.55">4.245</text>
<line x1="739.8" y1="1494.6" x2="739.8" y2="1508.6" stroke="#000" stroke-width="3.0"/>
<text transform="translate(740.5 1551.7) scale(1.042 1)" text-anchor="middle" stroke="#000" stroke-width="0.55">4.250</text>
<line x1="966.3" y1="1494.6" x2="966.3" y2="1508.6" stroke="#000" stroke-width="3.0"/>
<text transform="translate(967 1551.7) scale(1.042 1)" text-anchor="middle" stroke="#000" stroke-width="0.55">4.255</text>
<line x1="1192.8" y1="1494.6" x2="1192.8" y2="1508.6" stroke="#000" stroke-width="3.0"/>
<text transform="translate(1193.5 1551.7) scale(1.042 1)" text-anchor="middle" stroke="#000" stroke-width="0.55">4.260</text>
<line x1="1419.3" y1="1494.6" x2="1419.3" y2="1508.6" stroke="#000" stroke-width="3.0"/>
<text transform="translate(1420 1551.7) scale(1.042 1)" text-anchor="middle" stroke="#000" stroke-width="0.55">4.265</text>
<line x1="1645.8" y1="1494.6" x2="1645.8" y2="1508.6" stroke="#000" stroke-width="3.0"/>
<text transform="translate(1646.5 1551.7) scale(1.042 1)" text-anchor="middle" stroke="#000" stroke-width="0.55">4.270</text>
<line x1="1872.3" y1="1494.6" x2="1872.3" y2="1508.6" stroke="#000" stroke-width="3.0"/>
<text transform="translate(1873 1551.7) scale(1.042 1)" text-anchor="middle" stroke="#000" stroke-width="0.55">4.275</text>
<line x1="2098.8" y1="1494.6" x2="2098.8" y2="1508.6" stroke="#000" stroke-width="3.0"/>
<text transform="translate(2099.5 1551.7) scale(1.042 1)" text-anchor="middle" stroke="#000" stroke-width="0.55">4.280</text>
<rect x="191.9" y="1603.9" width="1927.8" height="625.8" fill="none" stroke="#000" stroke-width="3.0"/>
<line x1="177.9" y1="1659.2" x2="191.9" y2="1659.2" stroke="#000" stroke-width="3.0"/>
<text transform="translate(165.0 1673.5) scale(1.042 1)" text-anchor="end" stroke="#000" stroke-width="0.55">0.3</text>
<line x1="177.9" y1="1749.6" x2="191.9" y2="1749.6" stroke="#000" stroke-width="3.0"/>
<text transform="translate(165.0 1763.9) scale(1.042 1)" text-anchor="end" stroke="#000" stroke-width="0.55">0.2</text>
<line x1="177.9" y1="1840" x2="191.9" y2="1840" stroke="#000" stroke-width="3.0"/>
<text transform="translate(165.0 1854.3) scale(1.042 1)" text-anchor="end" stroke="#000" stroke-width="0.55">0.1</text>
<line x1="177.9" y1="1930.4" x2="191.9" y2="1930.4" stroke="#000" stroke-width="3.0"/>
<text transform="translate(165.0 1944.7) scale(1.042 1)" text-anchor="end" stroke="#000" stroke-width="0.55">0.0</text>
<line x1="177.9" y1="2020.8" x2="191.9" y2="2020.8" stroke="#000" stroke-width="3.0"/>
<text transform="translate(165.0 2035.1) scale(1.042 1)" text-anchor="end" stroke="#000" stroke-width="0.55">−0.1</text>
<line x1="177.9" y1="2111.2" x2="191.9" y2="2111.2" stroke="#000" stroke-width="3.0"/>
<text transform="translate(165.0 2125.5) scale(1.042 1)" text-anchor="end" stroke="#000" stroke-width="0.55">−0.2</text>
<line x1="177.9" y1="2201.6" x2="191.9" y2="2201.6" stroke="#000" stroke-width="3.0"/>
<text transform="translate(165.0 2215.9) scale(1.042 1)" text-anchor="end" stroke="#000" stroke-width="0.55">−0.3</text>
<line x1="523.2" y1="2229.7" x2="523.2" y2="2243.7" stroke="#000" stroke-width="3.0"/>
<text transform="translate(523.9 2286.6) scale(1.042 1)" text-anchor="middle" stroke="#000" stroke-width="0.55">4.64</text>
<line x1="897.3" y1="2229.7" x2="897.3" y2="2243.7" stroke="#000" stroke-width="3.0"/>
<text transform="translate(898 2286.6) scale(1.042 1)" text-anchor="middle" stroke="#000" stroke-width="0.55">4.66</text>
<line x1="1271.4" y1="2229.7" x2="1271.4" y2="2243.7" stroke="#000" stroke-width="3.0"/>
<text transform="translate(1272.1 2286.6) scale(1.042 1)" text-anchor="middle" stroke="#000" stroke-width="0.55">4.68</text>
<line x1="1645.5" y1="2229.7" x2="1645.5" y2="2243.7" stroke="#000" stroke-width="3.0"/>
<text transform="translate(1646.2 2286.6) scale(1.042 1)" text-anchor="middle" stroke="#000" stroke-width="0.55">4.70</text>
<line x1="2019.6" y1="2229.7" x2="2019.6" y2="2243.7" stroke="#000" stroke-width="3.0"/>
<text transform="translate(2020.3 2286.6) scale(1.042 1)" text-anchor="middle" stroke="#000" stroke-width="0.55">4.72</text>
</g>
<g font-family="'Liberation Sans', sans-serif">
<text fill="#0b579d" stroke="#0b579d" stroke-linejoin="round" xml:space="preserve"><tspan x="224.55" y="79.7" font-size="51.5" font-weight="700" stroke-width="1.3" textLength="183.66" lengthAdjust="spacingAndGlyphs">Methanol</tspan><tspan> </tspan><tspan x="417.45" y="76.71" font-size="47.38" font-weight="700" stroke-width="1.3" textLength="10.03" lengthAdjust="spacingAndGlyphs">(</tspan><tspan x="430.24" y="79.7" font-size="51.5" font-weight="700" stroke-width="1.3" textLength="49.62" lengthAdjust="spacingAndGlyphs">CH</tspan><tspan x="480.11" y="87.7" font-size="30.9" font-weight="700" stroke-width="1" textLength="14.32" lengthAdjust="spacingAndGlyphs">3</tspan><tspan x="495.17" y="79.7" font-size="51.5" font-weight="700" stroke-width="1.3" textLength="50.45" lengthAdjust="spacingAndGlyphs">OH</tspan><tspan x="549.02" y="76.71" font-size="47.38" font-weight="700" stroke-width="1.3" textLength="10.03" lengthAdjust="spacingAndGlyphs">)</tspan><tspan x="561.7" y="79.7" font-size="51.5" font-weight="700" stroke-width="1.3" textLength="15.39" lengthAdjust="spacingAndGlyphs">:</tspan><tspan> </tspan><tspan x="585.35" y="79.7" font-size="51.5" font-weight="400" stroke-width="1.7" textLength="49.29" lengthAdjust="spacingAndGlyphs">1.0</tspan><tspan> </tspan><tspan x="646.39" y="79.7" font-size="51.5" font-weight="400" stroke-width="1.7" textLength="15.9" lengthAdjust="spacingAndGlyphs">x</tspan><tspan> </tspan><tspan x="675.3" y="79.7" font-size="51.5" font-weight="400" stroke-width="1.7" textLength="37.26" lengthAdjust="spacingAndGlyphs">10</tspan><tspan x="714.69" y="62.1" font-size="30.9" font-weight="400" stroke-width="1.1" textLength="22.27" lengthAdjust="spacingAndGlyphs">32</tspan><tspan> </tspan><tspan x="749.37" y="76.71" font-size="47.38" font-weight="400" stroke-width="1.7" textLength="9.04" lengthAdjust="spacingAndGlyphs">(</tspan><tspan x="763.09" y="79.7" font-size="51.5" font-weight="400" stroke-width="1.7" textLength="29.09" lengthAdjust="spacingAndGlyphs">&lt;</tspan><tspan x="794.3" y="79.7" font-size="51.5" font-weight="400" stroke-width="1.7" textLength="40.99" lengthAdjust="spacingAndGlyphs">20</tspan><tspan> </tspan><tspan x="846.59" y="79.7" font-size="51.5" font-weight="400" stroke-width="1.7" textLength="31.42" lengthAdjust="spacingAndGlyphs">%</tspan><tspan x="882.39" y="76.71" font-size="47.38" font-weight="400" stroke-width="1.7" textLength="9.17" lengthAdjust="spacingAndGlyphs">)</tspan></text>
<text fill="#e97a0e" stroke="#e97a0e" stroke-linejoin="round" xml:space="preserve"><tspan x="226.1" y="145.3" font-size="51.5" font-weight="700" stroke-width="1.3" textLength="132" lengthAdjust="spacingAndGlyphs">Ethane</tspan><tspan> </tspan><tspan x="369.23" y="142.31" font-size="47.38" font-weight="700" stroke-width="1.3" textLength="10.15" lengthAdjust="spacingAndGlyphs">(</tspan><tspan x="382.46" y="145.3" font-size="51.5" font-weight="700" stroke-width="1.3" textLength="19.22" lengthAdjust="spacingAndGlyphs">C</tspan><tspan x="403.15" y="153.3" font-size="30.9" font-weight="700" stroke-width="1" textLength="13.63" lengthAdjust="spacingAndGlyphs">2</tspan><tspan x="418.42" y="145.3" font-size="51.5" font-weight="700" stroke-width="1.3" textLength="27.27" lengthAdjust="spacingAndGlyphs">H</tspan><tspan x="446.34" y="153.3" font-size="30.9" font-weight="700" stroke-width="1" textLength="14.61" lengthAdjust="spacingAndGlyphs">6</tspan><tspan x="463.12" y="142.31" font-size="47.38" font-weight="700" stroke-width="1.3" textLength="10.03" lengthAdjust="spacingAndGlyphs">)</tspan><tspan x="475.02" y="145.3" font-size="51.5" font-weight="700" stroke-width="1.3" textLength="13.26" lengthAdjust="spacingAndGlyphs">:</tspan><tspan> </tspan><tspan x="498.46" y="145.3" font-size="51.5" font-weight="400" stroke-width="1.7" textLength="46.9" lengthAdjust="spacingAndGlyphs">3.0</tspan><tspan> </tspan><tspan x="560.1" y="145.3" font-size="51.5" font-weight="400" stroke-width="1.7" textLength="15.79" lengthAdjust="spacingAndGlyphs">x</tspan><tspan> </tspan><tspan x="587.22" y="145.3" font-size="51.5" font-weight="400" stroke-width="1.7" textLength="39.83" lengthAdjust="spacingAndGlyphs">10</tspan><tspan x="628.64" y="127.7" font-size="30.9" font-weight="400" stroke-width="1.1" textLength="20.83" lengthAdjust="spacingAndGlyphs">31</tspan><tspan> </tspan><tspan x="662.99" y="142.31" font-size="47.38" font-weight="400" stroke-width="1.7" textLength="8.92" lengthAdjust="spacingAndGlyphs">(</tspan><tspan x="677.03" y="145.3" font-size="51.5" font-weight="400" stroke-width="1.7" textLength="27.53" lengthAdjust="spacingAndGlyphs">&lt;</tspan><tspan x="708.2" y="145.3" font-size="51.5" font-weight="400" stroke-width="1.7" textLength="18.08" lengthAdjust="spacingAndGlyphs">6</tspan><tspan x="729.15" y="145.3" font-size="51.5" font-weight="400" stroke-width="1.7" textLength="32.4" lengthAdjust="spacingAndGlyphs">%</tspan><tspan x="765.69" y="142.31" font-size="47.38" font-weight="400" stroke-width="1.7" textLength="8.92" lengthAdjust="spacingAndGlyphs">)</tspan></text>
<text fill="#1e7b10" stroke="#1e7b10" stroke-linejoin="round" xml:space="preserve"><tspan x="224.55" y="210.7" font-size="51.5" font-weight="700" stroke-width="1.3" textLength="169.93" lengthAdjust="spacingAndGlyphs">Methane</tspan><tspan> </tspan><tspan x="405.65" y="207.71" font-size="47.38" font-weight="700" stroke-width="1.3" textLength="10.03" lengthAdjust="spacingAndGlyphs">(</tspan><tspan x="418.54" y="210.7" font-size="51.5" font-weight="700" stroke-width="1.3" textLength="49.52" lengthAdjust="spacingAndGlyphs">CH</tspan><tspan x="467.51" y="218.7" font-size="30.9" font-weight="700" stroke-width="1" textLength="14.22" lengthAdjust="spacingAndGlyphs">4</tspan><tspan x="484.72" y="207.71" font-size="47.38" font-weight="700" stroke-width="1.3" textLength="10.03" lengthAdjust="spacingAndGlyphs">)</tspan><tspan x="496.62" y="210.7" font-size="51.5" font-weight="700" stroke-width="1.3" textLength="13.26" lengthAdjust="spacingAndGlyphs">:</tspan><tspan> </tspan><tspan x="519.48" y="210.7" font-size="51.5" font-weight="400" stroke-width="1.7" textLength="51.62" lengthAdjust="spacingAndGlyphs">2.0</tspan><tspan> </tspan><tspan x="581.39" y="210.7" font-size="51.5" font-weight="400" stroke-width="1.7" textLength="16.11" lengthAdjust="spacingAndGlyphs">x</tspan><tspan> </tspan><tspan x="609.9" y="210.7" font-size="51.5" font-weight="400" stroke-width="1.7" textLength="38.71" lengthAdjust="spacingAndGlyphs">10</tspan><tspan x="649.82" y="193.1" font-size="30.9" font-weight="400" stroke-width="1.1" textLength="21.26" lengthAdjust="spacingAndGlyphs">31</tspan><tspan> </tspan><tspan x="684.57" y="207.71" font-size="47.38" font-weight="400" stroke-width="1.7" textLength="9.04" lengthAdjust="spacingAndGlyphs">(</tspan><tspan x="698.63" y="210.7" font-size="51.5" font-weight="400" stroke-width="1.7" textLength="27.53" lengthAdjust="spacingAndGlyphs">&lt;</tspan><tspan x="729.68" y="210.7" font-size="51.5" font-weight="400" stroke-width="1.7" textLength="18.76" lengthAdjust="spacingAndGlyphs">4</tspan><tspan x="750.75" y="210.7" font-size="51.5" font-weight="400" stroke-width="1.7" textLength="32.4" lengthAdjust="spacingAndGlyphs">%</tspan><tspan x="787.29" y="207.71" font-size="47.38" font-weight="400" stroke-width="1.7" textLength="8.92" lengthAdjust="spacingAndGlyphs">)</tspan></text>
<text fill="#0b579d" stroke="#0b579d" stroke-linejoin="round" xml:space="preserve"><tspan x="225.18" y="943.2" font-size="51.5" font-weight="700" stroke-width="1.3" textLength="133.63" lengthAdjust="spacingAndGlyphs">Carbon</tspan><tspan> </tspan><tspan x="368.02" y="943.2" font-size="51.5" font-weight="700" stroke-width="1.3" textLength="139.19" lengthAdjust="spacingAndGlyphs">dioxide</tspan><tspan> </tspan><tspan x="517.71" y="940.21" font-size="47.38" font-weight="700" stroke-width="1.3" textLength="10.27" lengthAdjust="spacingAndGlyphs">(</tspan><tspan x="530.6" y="943.2" font-size="51.5" font-weight="700" stroke-width="1.3" textLength="45.84" lengthAdjust="spacingAndGlyphs">CO</tspan><tspan x="576.58" y="943.8" font-size="30.9" font-weight="700" stroke-width="1" textLength="14.79" lengthAdjust="spacingAndGlyphs">2</tspan><tspan x="593.62" y="940.21" font-size="47.38" font-weight="700" stroke-width="1.3" textLength="10.5" lengthAdjust="spacingAndGlyphs">)</tspan><tspan x="604.16" y="943.2" font-size="51.5" font-weight="700" stroke-width="1.3" textLength="16.58" lengthAdjust="spacingAndGlyphs">:</tspan><tspan> </tspan><tspan x="627.25" y="943.2" font-size="51.5" font-weight="400" stroke-width="1.7" textLength="52.06" lengthAdjust="spacingAndGlyphs">5.0</tspan><tspan> </tspan><tspan x="689.6" y="943.2" font-size="51.5" font-weight="400" stroke-width="1.7" textLength="15.38" lengthAdjust="spacingAndGlyphs">x</tspan><tspan> </tspan><tspan x="715.54" y="943.2" font-size="51.5" font-weight="400" stroke-width="1.7" textLength="39.6" lengthAdjust="spacingAndGlyphs">10</tspan><tspan x="757.31" y="925.6" font-size="30.9" font-weight="400" stroke-width="1.1" textLength="24.39" lengthAdjust="spacingAndGlyphs">30</tspan><tspan> </tspan><tspan x="792.47" y="940.21" font-size="47.38" font-weight="400" stroke-width="1.7" textLength="9.04" lengthAdjust="spacingAndGlyphs">(</tspan><tspan x="805.66" y="943.2" font-size="51.5" font-weight="400" stroke-width="1.7" textLength="29.45" lengthAdjust="spacingAndGlyphs">&lt;</tspan><tspan x="841.71" y="943.2" font-size="51.5" font-weight="400" stroke-width="1.7" textLength="11.22" lengthAdjust="spacingAndGlyphs">1</tspan><tspan> </tspan><tspan x="867.26" y="943.2" font-size="51.5" font-weight="400" stroke-width="1.7" textLength="32.18" lengthAdjust="spacingAndGlyphs">%</tspan><tspan x="904.09" y="940.21" font-size="47.38" font-weight="400" stroke-width="1.7" textLength="9.04" lengthAdjust="spacingAndGlyphs">)</tspan></text>
<text fill="#0b579d" stroke="#0b579d" stroke-linejoin="round" xml:space="preserve"><tspan x="225.19" y="1666.6" font-size="51.5" font-weight="700" stroke-width="1.3" textLength="133.22" lengthAdjust="spacingAndGlyphs">Carbon</tspan><tspan> </tspan><tspan x="366.93" y="1666.6" font-size="51.5" font-weight="700" stroke-width="1.3" textLength="187.98" lengthAdjust="spacingAndGlyphs">monoxide</tspan><tspan> </tspan><tspan x="566.41" y="1663.61" font-size="47.38" font-weight="700" stroke-width="1.3" textLength="10.97" lengthAdjust="spacingAndGlyphs">(</tspan><tspan x="581.96" y="1666.6" font-size="51.5" font-weight="700" stroke-width="1.3" textLength="43.51" lengthAdjust="spacingAndGlyphs">CO</tspan><tspan x="628.12" y="1663.61" font-size="47.38" font-weight="700" stroke-width="1.3" textLength="10.97" lengthAdjust="spacingAndGlyphs">)</tspan><tspan x="638.1" y="1666.6" font-size="51.5" font-weight="700" stroke-width="1.3" textLength="16.1" lengthAdjust="spacingAndGlyphs">:</tspan><tspan> </tspan><tspan x="661.72" y="1666.6" font-size="51.5" font-weight="400" stroke-width="1.7" textLength="49.62" lengthAdjust="spacingAndGlyphs">5.0</tspan><tspan> </tspan><tspan x="722.39" y="1666.6" font-size="51.5" font-weight="400" stroke-width="1.7" textLength="16.11" lengthAdjust="spacingAndGlyphs">x</tspan><tspan> </tspan><tspan x="750.41" y="1666.6" font-size="51.5" font-weight="400" stroke-width="1.7" textLength="38.6" lengthAdjust="spacingAndGlyphs">10</tspan><tspan x="791.44" y="1649" font-size="30.9" font-weight="400" stroke-width="1.1" textLength="20.72" lengthAdjust="spacingAndGlyphs">31</tspan><tspan> </tspan><tspan x="826.02" y="1663.61" font-size="47.38" font-weight="400" stroke-width="1.7" textLength="9.29" lengthAdjust="spacingAndGlyphs">(</tspan><tspan x="839.35" y="1666.6" font-size="51.5" font-weight="400" stroke-width="1.7" textLength="29.57" lengthAdjust="spacingAndGlyphs">&lt;</tspan><tspan x="875.79" y="1666.6" font-size="51.5" font-weight="400" stroke-width="1.7" textLength="35.92" lengthAdjust="spacingAndGlyphs">10</tspan><tspan> </tspan><tspan x="921.92" y="1666.6" font-size="51.5" font-weight="400" stroke-width="1.7" textLength="33.27" lengthAdjust="spacingAndGlyphs">%</tspan><tspan x="958.49" y="1663.61" font-size="47.38" font-weight="400" stroke-width="1.7" textLength="9.29" lengthAdjust="spacingAndGlyphs">)</tspan></text>
<text fill="#000" stroke="#000" stroke-linejoin="round" xml:space="preserve" transform="translate(43.1 681.95) rotate(-90)"><tspan x="-1.28" y="0" font-size="59.5" font-weight="700" stroke-width="1.4" textLength="24.57" lengthAdjust="spacingAndGlyphs">R</tspan><tspan x="27.33" y="0" font-size="59.5" font-weight="700" stroke-width="1.4" textLength="22.34" lengthAdjust="spacingAndGlyphs">e</tspan><tspan x="52.65" y="0" font-size="59.5" font-weight="700" stroke-width="1.4" textLength="18.19" lengthAdjust="spacingAndGlyphs">s</tspan><tspan x="73.2" y="0" font-size="59.5" font-weight="700" stroke-width="1.4" textLength="11.54" lengthAdjust="spacingAndGlyphs">i</tspan><tspan x="86.61" y="0" font-size="59.5" font-weight="700" stroke-width="1.4" textLength="26.67" lengthAdjust="spacingAndGlyphs">d</tspan><tspan x="114.72" y="0" font-size="59.5" font-weight="700" stroke-width="1.4" textLength="26.44" lengthAdjust="spacingAndGlyphs">u</tspan><tspan x="143.27" y="0" font-size="59.5" font-weight="700" stroke-width="1.4" textLength="21.38" lengthAdjust="spacingAndGlyphs">a</tspan><tspan x="168.29" y="0" font-size="59.5" font-weight="700" stroke-width="1.4" textLength="14.38" lengthAdjust="spacingAndGlyphs">l</tspan><tspan> </tspan><tspan x="192.49" y="0" font-size="59.5" font-weight="700" stroke-width="1.4" textLength="14.38" lengthAdjust="spacingAndGlyphs">i</tspan><tspan x="207.24" y="0" font-size="59.5" font-weight="700" stroke-width="1.4" textLength="27.45" lengthAdjust="spacingAndGlyphs">n</tspan><tspan x="235.56" y="0" font-size="59.5" font-weight="700" stroke-width="1.4" textLength="17.37" lengthAdjust="spacingAndGlyphs">t</tspan><tspan x="255.41" y="0" font-size="59.5" font-weight="700" stroke-width="1.4" textLength="24.07" lengthAdjust="spacingAndGlyphs">e</tspan><tspan x="280.95" y="0" font-size="59.5" font-weight="700" stroke-width="1.4" textLength="27.32" lengthAdjust="spacingAndGlyphs">n</tspan><tspan x="309.82" y="0" font-size="59.5" font-weight="700" stroke-width="1.4" textLength="18.66" lengthAdjust="spacingAndGlyphs">s</tspan><tspan x="329.14" y="0" font-size="59.5" font-weight="700" stroke-width="1.4" textLength="13.77" lengthAdjust="spacingAndGlyphs">i</tspan><tspan x="343.89" y="0" font-size="59.5" font-weight="700" stroke-width="1.4" textLength="16.51" lengthAdjust="spacingAndGlyphs">t</tspan><tspan x="363.88" y="0" font-size="59.5" font-weight="700" stroke-width="1.4" textLength="22.64" lengthAdjust="spacingAndGlyphs">y</tspan><tspan> </tspan><tspan x="399.45" y="-4.1" font-size="53.85" font-weight="400" stroke-width="2" textLength="10.35" lengthAdjust="spacingAndGlyphs">[</tspan><tspan x="413.74" y="0" font-size="59.5" font-weight="400" stroke-width="2" textLength="35.9" lengthAdjust="spacingAndGlyphs">m</tspan><tspan x="452.28" y="0" font-size="59.5" font-weight="400" stroke-width="2" textLength="13.29" lengthAdjust="spacingAndGlyphs">J</tspan><tspan x="470.01" y="0" font-size="59.5" font-weight="400" stroke-width="2" textLength="18.16" lengthAdjust="spacingAndGlyphs">y</tspan><tspan x="491.7" y="-4.1" font-size="53.85" font-weight="400" stroke-width="2" textLength="10.76" lengthAdjust="spacingAndGlyphs">]</tspan></text>
<text fill="#000" stroke="#000" stroke-linejoin="round" xml:space="preserve" transform="translate(43.1 1436.95) rotate(-90)"><tspan x="-1.28" y="0" font-size="59.5" font-weight="700" stroke-width="1.4" textLength="24.57" lengthAdjust="spacingAndGlyphs">R</tspan><tspan x="27.33" y="0" font-size="59.5" font-weight="700" stroke-width="1.4" textLength="22.34" lengthAdjust="spacingAndGlyphs">e</tspan><tspan x="52.65" y="0" font-size="59.5" font-weight="700" stroke-width="1.4" textLength="18.19" lengthAdjust="spacingAndGlyphs">s</tspan><tspan x="73.2" y="0" font-size="59.5" font-weight="700" stroke-width="1.4" textLength="11.54" lengthAdjust="spacingAndGlyphs">i</tspan><tspan x="86.61" y="0" font-size="59.5" font-weight="700" stroke-width="1.4" textLength="26.67" lengthAdjust="spacingAndGlyphs">d</tspan><tspan x="114.72" y="0" font-size="59.5" font-weight="700" stroke-width="1.4" textLength="26.44" lengthAdjust="spacingAndGlyphs">u</tspan><tspan x="143.27" y="0" font-size="59.5" font-weight="700" stroke-width="1.4" textLength="21.38" lengthAdjust="spacingAndGlyphs">a</tspan><tspan x="168.29" y="0" font-size="59.5" font-weight="700" stroke-width="1.4" textLength="14.38" lengthAdjust="spacingAndGlyphs">l</tspan><tspan> </tspan><tspan x="192.49" y="0" font-size="59.5" font-weight="700" stroke-width="1.4" textLength="14.38" lengthAdjust="spacingAndGlyphs">i</tspan><tspan x="207.24" y="0" font-size="59.5" font-weight="700" stroke-width="1.4" textLength="27.45" lengthAdjust="spacingAndGlyphs">n</tspan><tspan x="235.56" y="0" font-size="59.5" font-weight="700" stroke-width="1.4" textLength="17.37" lengthAdjust="spacingAndGlyphs">t</tspan><tspan x="255.41" y="0" font-size="59.5" font-weight="700" stroke-width="1.4" textLength="24.07" lengthAdjust="spacingAndGlyphs">e</tspan><tspan x="280.95" y="0" font-size="59.5" font-weight="700" stroke-width="1.4" textLength="27.32" lengthAdjust="spacingAndGlyphs">n</tspan><tspan x="309.82" y="0" font-size="59.5" font-weight="700" stroke-width="1.4" textLength="18.66" lengthAdjust="spacingAndGlyphs">s</tspan><tspan x="329.14" y="0" font-size="59.5" font-weight="700" stroke-width="1.4" textLength="13.77" lengthAdjust="spacingAndGlyphs">i</tspan><tspan x="343.89" y="0" font-size="59.5" font-weight="700" stroke-width="1.4" textLength="16.51" lengthAdjust="spacingAndGlyphs">t</tspan><tspan x="363.88" y="0" font-size="59.5" font-weight="700" stroke-width="1.4" textLength="22.64" lengthAdjust="spacingAndGlyphs">y</tspan><tspan> </tspan><tspan x="399.45" y="-4.1" font-size="53.85" font-weight="400" stroke-width="2" textLength="10.35" lengthAdjust="spacingAndGlyphs">[</tspan><tspan x="413.74" y="0" font-size="59.5" font-weight="400" stroke-width="2" textLength="35.9" lengthAdjust="spacingAndGlyphs">m</tspan><tspan x="452.28" y="0" font-size="59.5" font-weight="400" stroke-width="2" textLength="13.29" lengthAdjust="spacingAndGlyphs">J</tspan><tspan x="470.01" y="0" font-size="59.5" font-weight="400" stroke-width="2" textLength="18.16" lengthAdjust="spacingAndGlyphs">y</tspan><tspan x="491.7" y="-4.1" font-size="53.85" font-weight="400" stroke-width="2" textLength="10.76" lengthAdjust="spacingAndGlyphs">]</tspan></text>
<text fill="#000" stroke="#000" stroke-linejoin="round" xml:space="preserve" transform="translate(43.1 2176.4) rotate(-90)"><tspan x="-1.28" y="0" font-size="59.5" font-weight="700" stroke-width="1.4" textLength="24.57" lengthAdjust="spacingAndGlyphs">R</tspan><tspan x="27.33" y="0" font-size="59.5" font-weight="700" stroke-width="1.4" textLength="22.34" lengthAdjust="spacingAndGlyphs">e</tspan><tspan x="52.65" y="0" font-size="59.5" font-weight="700" stroke-width="1.4" textLength="18.19" lengthAdjust="spacingAndGlyphs">s</tspan><tspan x="73.2" y="0" font-size="59.5" font-weight="700" stroke-width="1.4" textLength="11.54" lengthAdjust="spacingAndGlyphs">i</tspan><tspan x="86.61" y="0" font-size="59.5" font-weight="700" stroke-width="1.4" textLength="26.67" lengthAdjust="spacingAndGlyphs">d</tspan><tspan x="114.72" y="0" font-size="59.5" font-weight="700" stroke-width="1.4" textLength="26.44" lengthAdjust="spacingAndGlyphs">u</tspan><tspan x="143.27" y="0" font-size="59.5" font-weight="700" stroke-width="1.4" textLength="21.38" lengthAdjust="spacingAndGlyphs">a</tspan><tspan x="168.29" y="0" font-size="59.5" font-weight="700" stroke-width="1.4" textLength="14.38" lengthAdjust="spacingAndGlyphs">l</tspan><tspan> </tspan><tspan x="192.49" y="0" font-size="59.5" font-weight="700" stroke-width="1.4" textLength="14.38" lengthAdjust="spacingAndGlyphs">i</tspan><tspan x="207.24" y="0" font-size="59.5" font-weight="700" stroke-width="1.4" textLength="27.45" lengthAdjust="spacingAndGlyphs">n</tspan><tspan x="235.56" y="0" font-size="59.5" font-weight="700" stroke-width="1.4" textLength="17.37" lengthAdjust="spacingAndGlyphs">t</tspan><tspan x="255.41" y="0" font-size="59.5" font-weight="700" stroke-width="1.4" textLength="24.07" lengthAdjust="spacingAndGlyphs">e</tspan><tspan x="280.95" y="0" font-size="59.5" font-weight="700" stroke-width="1.4" textLength="27.32" lengthAdjust="spacingAndGlyphs">n</tspan><tspan x="309.82" y="0" font-size="59.5" font-weight="700" stroke-width="1.4" textLength="18.66" lengthAdjust="spacingAndGlyphs">s</tspan><tspan x="329.14" y="0" font-size="59.5" font-weight="700" stroke-width="1.4" textLength="13.77" lengthAdjust="spacingAndGlyphs">i</tspan><tspan x="343.89" y="0" font-size="59.5" font-weight="700" stroke-width="1.4" textLength="16.51" lengthAdjust="spacingAndGlyphs">t</tspan><tspan x="363.88" y="0" font-size="59.5" font-weight="700" stroke-width="1.4" textLength="22.64" lengthAdjust="spacingAndGlyphs">y</tspan><tspan> </tspan><tspan x="399.45" y="-4.1" font-size="53.85" font-weight="400" stroke-width="2" textLength="10.35" lengthAdjust="spacingAndGlyphs">[</tspan><tspan x="413.74" y="0" font-size="59.5" font-weight="400" stroke-width="2" textLength="35.9" lengthAdjust="spacingAndGlyphs">m</tspan><tspan x="452.28" y="0" font-size="59.5" font-weight="400" stroke-width="2" textLength="13.29" lengthAdjust="spacingAndGlyphs">J</tspan><tspan x="470.01" y="0" font-size="59.5" font-weight="400" stroke-width="2" textLength="18.16" lengthAdjust="spacingAndGlyphs">y</tspan><tspan x="491.7" y="-4.1" font-size="53.85" font-weight="400" stroke-width="2" textLength="10.76" lengthAdjust="spacingAndGlyphs">]</tspan></text>
<text fill="#000" stroke="#000" stroke-linejoin="round" xml:space="preserve"><tspan x="921.56" y="2355" font-size="59.5" font-weight="700" stroke-width="1.4" textLength="39.58" lengthAdjust="spacingAndGlyphs">W</tspan><tspan x="962.35" y="2355" font-size="59.5" font-weight="700" stroke-width="1.4" textLength="21.8" lengthAdjust="spacingAndGlyphs">a</tspan><tspan x="986.93" y="2355" font-size="59.5" font-weight="700" stroke-width="1.4" textLength="23.86" lengthAdjust="spacingAndGlyphs">v</tspan><tspan x="1011.61" y="2355" font-size="59.5" font-weight="700" stroke-width="1.4" textLength="24.07" lengthAdjust="spacingAndGlyphs">e</tspan><tspan x="1036.59" y="2355" font-size="59.5" font-weight="700" stroke-width="1.4" textLength="14.38" lengthAdjust="spacingAndGlyphs">l</tspan><tspan x="1051.59" y="2355" font-size="59.5" font-weight="700" stroke-width="1.4" textLength="24.3" lengthAdjust="spacingAndGlyphs">e</tspan><tspan x="1077.52" y="2355" font-size="59.5" font-weight="700" stroke-width="1.4" textLength="27.58" lengthAdjust="spacingAndGlyphs">n</tspan><tspan x="1105.73" y="2355" font-size="59.5" font-weight="700" stroke-width="1.4" textLength="27.81" lengthAdjust="spacingAndGlyphs">g</tspan><tspan x="1134.06" y="2355" font-size="59.5" font-weight="700" stroke-width="1.4" textLength="17.37" lengthAdjust="spacingAndGlyphs">t</tspan><tspan x="1152.99" y="2355" font-size="59.5" font-weight="700" stroke-width="1.4" textLength="28.06" lengthAdjust="spacingAndGlyphs">h</tspan><tspan> </tspan><tspan x="1194.59" y="2350.9" font-size="53.85" font-weight="400" stroke-width="2" textLength="9.79" lengthAdjust="spacingAndGlyphs">[</tspan><tspan x="1208.28" y="2355" font-size="59.5" font-weight="400" stroke-width="2" textLength="35.43" lengthAdjust="spacingAndGlyphs">m</tspan><tspan x="1247.19" y="2355" font-size="59.5" font-weight="400" stroke-width="2" textLength="8.34" lengthAdjust="spacingAndGlyphs">i</tspan><tspan x="1259.11" y="2355" font-size="59.5" font-weight="400" stroke-width="2" textLength="16.35" lengthAdjust="spacingAndGlyphs">c</tspan><tspan x="1277.64" y="2355" font-size="59.5" font-weight="400" stroke-width="2" textLength="13.32" lengthAdjust="spacingAndGlyphs">r</tspan><tspan x="1292.73" y="2355" font-size="59.5" font-weight="400" stroke-width="2" textLength="20.73" lengthAdjust="spacingAndGlyphs">o</tspan><tspan x="1316.31" y="2355" font-size="59.5" font-weight="400" stroke-width="2" textLength="21.73" lengthAdjust="spacingAndGlyphs">n</tspan><tspan x="1342.65" y="2355" font-size="59.5" font-weight="400" stroke-width="2" textLength="13.53" lengthAdjust="spacingAndGlyphs">s</tspan><tspan x="1361.13" y="2350.9" font-size="53.85" font-weight="400" stroke-width="2" textLength="9.65" lengthAdjust="spacingAndGlyphs">]</tspan></text>
</g>
</svg>
</body></html>
